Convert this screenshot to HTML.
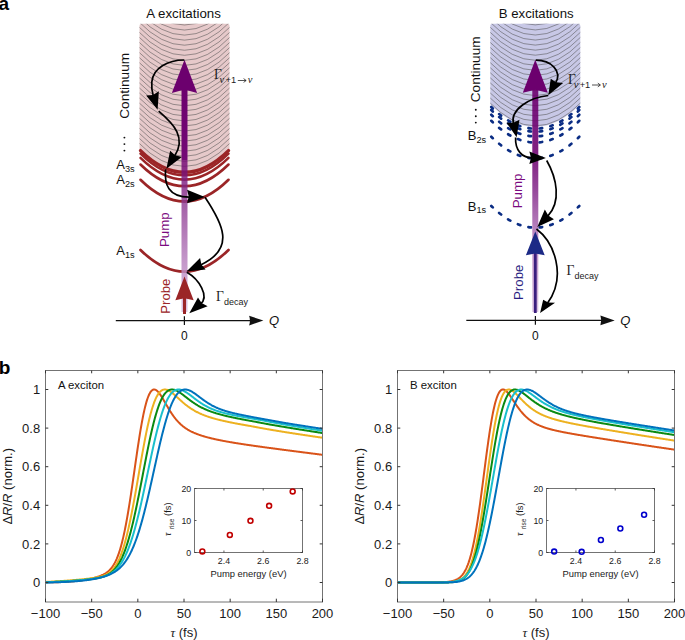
<!DOCTYPE html>
<html><head><meta charset="utf-8"><style>
html,body{margin:0;padding:0;background:#fff;width:685px;height:640px;overflow:hidden;}
svg{display:block;}
</style></head><body>
<svg width="685" height="640" viewBox="0 0 685 640">
<defs>
<linearGradient id="pumpA" x1="0" y1="89" x2="0" y2="313" gradientUnits="userSpaceOnUse"><stop offset="0" stop-color="#6C006E"/><stop offset="0.35" stop-color="#740A76"/><stop offset="0.5" stop-color="#8E3A92"/><stop offset="0.75" stop-color="#B47CBB"/><stop offset="1" stop-color="#D8BCDE"/></linearGradient>
<linearGradient id="pumpB" x1="0" y1="89" x2="0" y2="313" gradientUnits="userSpaceOnUse"><stop offset="0" stop-color="#6C006E"/><stop offset="0.3" stop-color="#720874"/><stop offset="0.45" stop-color="#8A3490"/><stop offset="0.65" stop-color="#B47CBB"/><stop offset="1" stop-color="#D8BCDE"/></linearGradient>
</defs>
<rect width="685" height="640" fill="#fff"/>
<text x="-1.4" y="9.9" font-family="'Liberation Sans', sans-serif" font-weight="bold" font-size="19">a</text>
<text x="-1.3" y="374.4" font-family="'Liberation Sans', sans-serif" font-weight="bold" font-size="19">b</text>
<text x="183.5" y="17.9" text-anchor="middle" font-family="'Liberation Sans', sans-serif" font-size="13.3" fill="#111">A excitations</text>
<path d="M141.50,23.8 L227.50,23.8 Q229.5,23.8 229.5,25.8 L229.5,149.82 Q184.5,195.18 139.5,149.82 L139.5,25.8 Q139.5,23.8 141.5,23.8 Z" fill="#E6C9CA"/>
<clipPath id="clipA"><path d="M139.5,23.8 L229.5,23.8 L229.5,149.82 Q184.5,195.18 139.5,149.82 Z"/></clipPath>
<g clip-path="url(#clipA)" fill="none" stroke="#505050" stroke-width="0.6" stroke-opacity="0.9">
<path d="M138.50,142.70 Q184.50,190.10 230.50,142.70"/>
<path d="M138.50,137.65 Q184.50,185.05 230.50,137.65"/>
<path d="M138.50,132.60 Q184.50,180.00 230.50,132.60"/>
<path d="M138.50,127.55 Q184.50,174.95 230.50,127.55"/>
<path d="M138.50,122.50 Q184.50,169.90 230.50,122.50"/>
<path d="M138.50,117.45 Q184.50,164.85 230.50,117.45"/>
<path d="M138.50,112.40 Q184.50,159.80 230.50,112.40"/>
<path d="M138.50,107.35 Q184.50,154.75 230.50,107.35"/>
<path d="M138.50,102.30 Q184.50,149.70 230.50,102.30"/>
<path d="M138.50,97.25 Q184.50,144.65 230.50,97.25"/>
<path d="M138.50,92.20 Q184.50,139.60 230.50,92.20"/>
<path d="M138.50,87.15 Q184.50,134.55 230.50,87.15"/>
<path d="M138.50,82.10 Q184.50,129.50 230.50,82.10"/>
<path d="M138.50,77.05 Q184.50,124.45 230.50,77.05"/>
<path d="M138.50,72.00 Q184.50,119.40 230.50,72.00"/>
<path d="M138.50,66.95 Q184.50,114.35 230.50,66.95"/>
<path d="M138.50,61.90 Q184.50,109.30 230.50,61.90"/>
<path d="M138.50,56.85 Q184.50,104.25 230.50,56.85"/>
<path d="M138.50,51.80 Q184.50,99.20 230.50,51.80"/>
<path d="M138.50,46.75 Q184.50,94.15 230.50,46.75"/>
<path d="M138.50,41.70 Q184.50,89.10 230.50,41.70"/>
<path d="M138.50,36.65 Q184.50,84.05 230.50,36.65"/>
<path d="M138.50,31.60 Q184.50,79.00 230.50,31.60"/>
<path d="M138.50,26.55 Q184.50,73.95 230.50,26.55"/>
<path d="M138.50,21.50 Q184.50,68.90 230.50,21.50"/>
<path d="M138.50,16.45 Q184.50,63.85 230.50,16.45"/>
<path d="M138.50,11.40 Q184.50,58.80 230.50,11.40"/>
<path d="M138.50,6.35 Q184.50,53.75 230.50,6.35"/>
<path d="M138.50,1.30 Q184.50,48.70 230.50,1.30"/>
<path d="M138.50,-3.75 Q184.50,43.65 230.50,-3.75"/>
<path d="M138.50,-8.80 Q184.50,38.60 230.50,-8.80"/>
<path d="M138.50,-13.85 Q184.50,33.55 230.50,-13.85"/>
<path d="M138.50,-18.90 Q184.50,28.50 230.50,-18.90"/>
<path d="M138.50,-23.95 Q184.50,23.45 230.50,-23.95"/>
<path d="M138.50,-29.00 Q184.50,18.40 230.50,-29.00"/>
<path d="M138.50,-34.05 Q184.50,13.35 230.50,-34.05"/>
<path d="M138.50,-39.10 Q184.50,8.30 230.50,-39.10"/>
<path d="M138.50,-44.15 Q184.50,3.25 230.50,-44.15"/>
<path d="M138.50,-49.20 Q184.50,-1.80 230.50,-49.20"/>
</g>
<path d="M140.50,150.62 Q184.50,193.98 228.50,150.62" fill="none" stroke="#9B2527" stroke-width="3.4" stroke-linecap="round"/>
<path d="M140.50,153.62 Q184.50,196.98 228.50,153.62" fill="none" stroke="#9B2527" stroke-width="2.5" stroke-linecap="round"/>
<path d="M140.50,157.92 Q184.50,201.28 228.50,157.92" fill="none" stroke="#9B2527" stroke-width="2.5" stroke-linecap="round"/>
<path d="M140.50,164.52 Q184.50,207.88 228.50,164.52" fill="none" stroke="#9B2527" stroke-width="2.6" stroke-linecap="round"/>
<path d="M140.50,179.82 Q184.50,223.18 228.50,179.82" fill="none" stroke="#9B2527" stroke-width="2.7" stroke-linecap="round"/>
<path d="M140.50,249.92 Q184.50,293.28 228.50,249.92" fill="none" stroke="#9B2527" stroke-width="2.7" stroke-linecap="round"/>
<rect x="181.5" y="89" width="6" height="71" fill="url(#pumpA)"/>
<rect x="181.5" y="160" width="6" height="152" fill="url(#pumpA)" opacity="0.82"/>
<path d="M184.50,59.80 L197.15,93.10 L184.50,89.40 L171.85,93.10 Z" fill="#6C006E"/>
<rect x="183.0" y="296" width="3" height="18" fill="#9B2527"/>
<path d="M184.50,276.60 L193.65,300.20 L184.50,298.20 L175.35,300.20 Z" fill="#9B2527"/>
<path d="M184.3,60 C168,60 153,68 151.8,82 C151.3,88 152.3,92.5 153.3,95.9" fill="none" stroke="#000" stroke-width="1.7"/>
<path d="M157.60,109.80 L146.15,95.60 L152.99,95.00 L158.87,91.36 Z" fill="#000"/>
<path d="M158.7,111.2 C173.9,124.2 186.5,137.5 174.6,156" fill="none" stroke="#000" stroke-width="1.7"/>
<path d="M166.40,168.70 L170.11,150.79 L175.12,155.20 L181.88,156.93 Z" fill="#000"/>
<path d="M165.6,169.4 C164.2,184 168,197.3 189.7,197.1" fill="none" stroke="#000" stroke-width="1.7"/>
<path d="M204.85,197.10 L187.09,189.68 L188.69,196.47 L187.09,203.14 Z" fill="#000"/>
<path d="M205,197.3 C222.6,223.6 236,248.5 200.6,264.9" fill="none" stroke="#000" stroke-width="1.7"/>
<path d="M186.50,271.60 L200.07,258.03 L201.38,264.45 L205.58,269.48 Z" fill="#000"/>
<path d="M186.8,272.2 C198.9,279 209.8,296.5 200.4,304.1" fill="none" stroke="#000" stroke-width="1.7"/>
<path d="M189.30,313.20 L197.99,297.51 L201.59,302.89 L207.64,306.20 Z" fill="#000"/>
<text transform="translate(129.2,118.7) rotate(-90)" font-family="'Liberation Sans', sans-serif" font-size="13.6" fill="#111">Continuum</text>
<circle cx="124.4" cy="137.6" r="0.95" fill="#111"/>
<circle cx="124.4" cy="144.1" r="0.95" fill="#111"/>
<circle cx="124.4" cy="150.6" r="0.95" fill="#111"/>
<text x="116.3" y="168.8" font-family="'Liberation Sans', sans-serif" font-size="13" fill="#111">A<tspan font-size="9.2" dy="2.8">3s</tspan></text>
<text x="116.3" y="184.1" font-family="'Liberation Sans', sans-serif" font-size="13" fill="#111">A<tspan font-size="9.2" dy="2.8">2s</tspan></text>
<text x="116.3" y="254.7" font-family="'Liberation Sans', sans-serif" font-size="13" fill="#111">A<tspan font-size="9.2" dy="2.8">1s</tspan></text>
<text transform="translate(169,247) rotate(-90)" font-family="'Liberation Sans', sans-serif" font-size="13.3" fill="#7B0A80">Pump</text>
<text transform="translate(169.6,313.8) rotate(-90)" font-family="'Liberation Sans', sans-serif" font-size="13.2" fill="#9B2527">Probe</text>
<text x="213.90" y="79.1" font-family="'Liberation Serif', serif" font-size="13.6" fill="#1a1a1a">Γ</text>
<text x="219.60" y="83.00" font-family="'Liberation Serif', serif" font-style="italic" font-size="10.5" fill="#1a1a1a">ν</text>
<text x="225.50" y="83.00" font-family="'Liberation Sans', sans-serif" font-size="9.3" fill="#1a1a1a" textLength="10.6" lengthAdjust="spacingAndGlyphs">+1</text>
<path d="M237.80,80.50 H246.00 M243.60,78.60 L246.20,80.50 L243.60,82.40" fill="none" stroke="#1a1a1a" stroke-width="0.75"/>
<text x="247.70" y="83.00" font-family="'Liberation Serif', serif" font-style="italic" font-size="10.5" fill="#1a1a1a">ν</text>
<text x="215.90" y="300.7" font-family="'Liberation Serif', serif" font-size="13.6" fill="#1a1a1a">Γ</text>
<text x="223.90" y="304.70" font-family="'Liberation Sans', sans-serif" font-size="9.3" fill="#1a1a1a" textLength="24" lengthAdjust="spacingAndGlyphs">decay</text>
<line x1="115.8" y1="320.6" x2="253.39999999999998" y2="320.6" stroke="#111" stroke-width="1.3"/>
<path d="M263.4,320.6 L249.09999999999997,315.8 Q250.79999999999998,320.6 249.09999999999997,325.40000000000003 Z" fill="#111"/>
<line x1="184.4" y1="316.3" x2="184.4" y2="324.90000000000003" stroke="#111" stroke-width="1.2"/>
<text x="268.9" y="325.1" font-family="'Liberation Sans', sans-serif" font-style="italic" font-size="13" fill="#111">Q</text>
<text x="184.4" y="340.40000000000003" text-anchor="middle" font-family="'Liberation Sans', sans-serif" font-size="12" fill="#111">0</text>
<text x="536.2" y="17.8" text-anchor="middle" font-family="'Liberation Sans', sans-serif" font-size="13.2" fill="#111">B excitations</text>
<path d="M492.30,23.8 L578.30,23.8 Q580.3,23.8 580.3,25.8 L580.3,104.32 Q535.3,149.68 490.29999999999995,104.32 L490.29999999999995,25.8 Q490.29999999999995,23.8 492.29999999999995,23.8 Z" fill="#C8C8E6"/>
<clipPath id="clipB"><path d="M490.29999999999995,23.8 L580.3,23.8 L580.3,104.32 Q535.3,149.68 490.29999999999995,104.32 Z"/></clipPath>
<g clip-path="url(#clipB)" fill="none" stroke="#505050" stroke-width="0.6" stroke-opacity="0.9">
<path d="M489.30,102.20 Q535.30,149.60 581.30,102.20"/>
<path d="M489.30,97.15 Q535.30,144.55 581.30,97.15"/>
<path d="M489.30,92.10 Q535.30,139.50 581.30,92.10"/>
<path d="M489.30,87.05 Q535.30,134.45 581.30,87.05"/>
<path d="M489.30,82.00 Q535.30,129.40 581.30,82.00"/>
<path d="M489.30,76.95 Q535.30,124.35 581.30,76.95"/>
<path d="M489.30,71.90 Q535.30,119.30 581.30,71.90"/>
<path d="M489.30,66.85 Q535.30,114.25 581.30,66.85"/>
<path d="M489.30,61.80 Q535.30,109.20 581.30,61.80"/>
<path d="M489.30,56.75 Q535.30,104.15 581.30,56.75"/>
<path d="M489.30,51.70 Q535.30,99.10 581.30,51.70"/>
<path d="M489.30,46.65 Q535.30,94.05 581.30,46.65"/>
<path d="M489.30,41.60 Q535.30,89.00 581.30,41.60"/>
<path d="M489.30,36.55 Q535.30,83.95 581.30,36.55"/>
<path d="M489.30,31.50 Q535.30,78.90 581.30,31.50"/>
<path d="M489.30,26.45 Q535.30,73.85 581.30,26.45"/>
<path d="M489.30,21.40 Q535.30,68.80 581.30,21.40"/>
<path d="M489.30,16.35 Q535.30,63.75 581.30,16.35"/>
<path d="M489.30,11.30 Q535.30,58.70 581.30,11.30"/>
<path d="M489.30,6.25 Q535.30,53.65 581.30,6.25"/>
<path d="M489.30,1.20 Q535.30,48.60 581.30,1.20"/>
<path d="M489.30,-3.85 Q535.30,43.55 581.30,-3.85"/>
<path d="M489.30,-8.90 Q535.30,38.50 581.30,-8.90"/>
<path d="M489.30,-13.95 Q535.30,33.45 581.30,-13.95"/>
<path d="M489.30,-19.00 Q535.30,28.40 581.30,-19.00"/>
<path d="M489.30,-24.05 Q535.30,23.35 581.30,-24.05"/>
<path d="M489.30,-29.10 Q535.30,18.30 581.30,-29.10"/>
<path d="M489.30,-34.15 Q535.30,13.25 581.30,-34.15"/>
<path d="M489.30,-39.20 Q535.30,8.20 581.30,-39.20"/>
<path d="M489.30,-44.25 Q535.30,3.15 581.30,-44.25"/>
<path d="M489.30,-49.30 Q535.30,-1.90 581.30,-49.30"/>
</g>
<path d="M535.30,128.70 Q513.30,128.70 491.30,107.02" fill="none" stroke="#0B2D84" stroke-width="2.7" stroke-linecap="round" stroke-dasharray="2.6 8.4" stroke-dashoffset="6.7"/>
<path d="M535.30,128.70 Q557.30,128.70 579.30,107.02" fill="none" stroke="#0B2D84" stroke-width="2.7" stroke-linecap="round" stroke-dasharray="2.6 8.4" stroke-dashoffset="6.7"/>
<path d="M535.30,131.70 Q513.30,131.70 491.30,110.02" fill="none" stroke="#0B2D84" stroke-width="2.7" stroke-linecap="round" stroke-dasharray="2.6 8.4" stroke-dashoffset="6.7"/>
<path d="M535.30,131.70 Q557.30,131.70 579.30,110.02" fill="none" stroke="#0B2D84" stroke-width="2.7" stroke-linecap="round" stroke-dasharray="2.6 8.4" stroke-dashoffset="6.7"/>
<path d="M535.30,136.40 Q513.30,136.40 491.30,114.72" fill="none" stroke="#0B2D84" stroke-width="2.7" stroke-linecap="round" stroke-dasharray="2.6 8.4" stroke-dashoffset="6.7"/>
<path d="M535.30,136.40 Q557.30,136.40 579.30,114.72" fill="none" stroke="#0B2D84" stroke-width="2.7" stroke-linecap="round" stroke-dasharray="2.6 8.4" stroke-dashoffset="6.7"/>
<path d="M535.30,142.50 Q513.30,142.50 491.30,120.82" fill="none" stroke="#0B2D84" stroke-width="2.7" stroke-linecap="round" stroke-dasharray="2.6 8.4" stroke-dashoffset="6.7"/>
<path d="M535.30,142.50 Q557.30,142.50 579.30,120.82" fill="none" stroke="#0B2D84" stroke-width="2.7" stroke-linecap="round" stroke-dasharray="2.6 8.4" stroke-dashoffset="6.7"/>
<path d="M535.30,158.40 Q513.30,158.40 491.30,136.72" fill="none" stroke="#0B2D84" stroke-width="2.7" stroke-linecap="round" stroke-dasharray="2.6 8.4" stroke-dashoffset="6.7"/>
<path d="M535.30,158.40 Q557.30,158.40 579.30,136.72" fill="none" stroke="#0B2D84" stroke-width="2.7" stroke-linecap="round" stroke-dasharray="2.6 8.4" stroke-dashoffset="6.7"/>
<path d="M535.30,227.60 Q513.30,227.60 491.30,205.92" fill="none" stroke="#0B2D84" stroke-width="2.7" stroke-linecap="round" stroke-dasharray="2.6 8.4" stroke-dashoffset="6.7"/>
<path d="M535.30,227.60 Q557.30,227.60 579.30,205.92" fill="none" stroke="#0B2D84" stroke-width="2.7" stroke-linecap="round" stroke-dasharray="2.6 8.4" stroke-dashoffset="6.7"/>
<rect x="532.3" y="89" width="6" height="223" fill="url(#pumpB)" opacity="0.9"/>
<path d="M535.30,59.70 L547.80,92.70 L535.30,89.70 L522.80,92.70 Z" fill="#6C006E"/>
<rect x="533.9" y="250" width="2.8" height="63" fill="#3A1E7E"/>
<path d="M535.30,231.60 L544.70,255.20 L535.30,253.40 L525.90,255.20 Z" fill="#1C2A86"/>
<path d="M535.8,60.2 C551,60.2 562.5,71 555.6,83" fill="none" stroke="#000" stroke-width="1.7"/>
<path d="M548.30,95.30 L550.74,78.76 L556.12,82.20 L563.14,82.90 Z" fill="#000"/>
<path d="M548.3,95.5 C530,97.3 509.4,109.5 513.6,124.5" fill="none" stroke="#000" stroke-width="1.7"/>
<path d="M516.60,137.20 L506.53,122.68 L513.35,122.75 L519.46,119.71 Z" fill="#000"/>
<path d="M515.6,137.5 C515,150 521.9,157.8 531.9,157.8" fill="none" stroke="#000" stroke-width="1.7"/>
<path d="M545.90,158.10 L529.36,151.53 L530.96,157.76 L529.36,163.93 Z" fill="#000"/>
<path d="M546.7,160.5 C556.7,177.9 561.6,201.9 547.6,216.3" fill="none" stroke="#000" stroke-width="1.7"/>
<path d="M537.30,226.90 L544.83,209.52 L548.27,215.59 L553.94,219.37 Z" fill="#000"/>
<path d="M536.5,229 C554.1,242.2 567,276 547.6,303.1" fill="none" stroke="#000" stroke-width="1.7"/>
<path d="M540.10,313.10 L543.17,299.64 L548.15,302.45 L555.05,302.71 Z" fill="#000"/>
<text transform="translate(480,102.2) rotate(-90)" font-family="'Liberation Sans', sans-serif" font-size="13.6" fill="#111">Continuum</text>
<circle cx="475.8" cy="109.7" r="0.95" fill="#111"/>
<circle cx="475.8" cy="116.2" r="0.95" fill="#111"/>
<circle cx="475.8" cy="122.6" r="0.95" fill="#111"/>
<text x="467.8" y="139.9" font-family="'Liberation Sans', sans-serif" font-size="13" fill="#111">B<tspan font-size="9.2" dy="2.8">2s</tspan></text>
<text x="467.8" y="210.5" font-family="'Liberation Sans', sans-serif" font-size="13" fill="#111">B<tspan font-size="9.2" dy="2.8">1s</tspan></text>
<text transform="translate(521.9,208.3) rotate(-90)" font-family="'Liberation Sans', sans-serif" font-size="13.3" fill="#7B0A80">Pump</text>
<text transform="translate(523,300) rotate(-90)" font-family="'Liberation Sans', sans-serif" font-size="13.3" fill="#2B1F82">Probe</text>
<text x="568.10" y="83.6" font-family="'Liberation Serif', serif" font-size="13.6" fill="#1a1a1a">Γ</text>
<text x="573.80" y="87.50" font-family="'Liberation Serif', serif" font-style="italic" font-size="10.5" fill="#1a1a1a">ν</text>
<text x="579.70" y="87.50" font-family="'Liberation Sans', sans-serif" font-size="9.3" fill="#1a1a1a" textLength="10.6" lengthAdjust="spacingAndGlyphs">+1</text>
<path d="M592.00,85.00 H600.20 M597.80,83.10 L600.40,85.00 L597.80,86.90" fill="none" stroke="#1a1a1a" stroke-width="0.75"/>
<text x="601.90" y="87.50" font-family="'Liberation Serif', serif" font-style="italic" font-size="10.5" fill="#1a1a1a">ν</text>
<text x="566.60" y="275.1" font-family="'Liberation Serif', serif" font-size="13.6" fill="#1a1a1a">Γ</text>
<text x="574.60" y="279.10" font-family="'Liberation Sans', sans-serif" font-size="9.3" fill="#1a1a1a" textLength="24" lengthAdjust="spacingAndGlyphs">decay</text>
<line x1="466.3" y1="320.4" x2="604.7" y2="320.4" stroke="#111" stroke-width="1.3"/>
<path d="M614.7,320.4 L600.4000000000001,315.59999999999997 Q602.1,320.4 600.4000000000001,325.2 Z" fill="#111"/>
<line x1="535.4" y1="316.09999999999997" x2="535.4" y2="324.7" stroke="#111" stroke-width="1.2"/>
<text x="620.2" y="324.9" font-family="'Liberation Sans', sans-serif" font-style="italic" font-size="13" fill="#111">Q</text>
<text x="535.4" y="340.2" text-anchor="middle" font-family="'Liberation Sans', sans-serif" font-size="12" fill="#111">0</text>
<clipPath id="pcA"><rect x="45.5" y="370.5" width="277" height="231"/></clipPath>
<g clip-path="url(#pcA)" fill="none" stroke-width="2">
<polyline points="45.50,582.40 45.96,582.39 46.42,582.39 46.88,582.38 47.35,582.37 47.81,582.37 48.27,582.36 48.73,582.36 49.19,582.35 49.65,582.34 50.12,582.33 50.58,582.33 51.04,582.32 51.50,582.31 51.96,582.30 52.42,582.29 52.89,582.28 53.35,582.27 53.81,582.26 54.27,582.25 54.73,582.24 55.19,582.23 55.66,582.22 56.12,582.20 56.58,582.19 57.04,582.18 57.50,582.16 57.96,582.15 58.43,582.14 58.89,582.12 59.35,582.11 59.81,582.09 60.27,582.07 60.73,582.05 61.20,582.04 61.66,582.02 62.12,582.00 62.58,581.98 63.04,581.96 63.50,581.94 63.97,581.92 64.43,581.89 64.89,581.87 65.35,581.84 65.81,581.82 66.27,581.79 66.74,581.77 67.20,581.74 67.66,581.71 68.12,581.68 68.58,581.65 69.04,581.62 69.51,581.59 69.97,581.56 70.43,581.52 70.89,581.49 71.35,581.45 71.81,581.41 72.28,581.38 72.74,581.34 73.20,581.30 73.66,581.25 74.12,581.21 74.58,581.17 75.05,581.12 75.51,581.08 75.97,581.03 76.43,580.98 76.89,580.93 77.35,580.88 77.82,580.83 78.28,580.77 78.74,580.72 79.20,580.66 79.66,580.60 80.12,580.54 80.59,580.48 81.05,580.42 81.51,580.35 81.97,580.28 82.43,580.22 82.89,580.15 83.36,580.08 83.82,580.00 84.28,579.93 84.74,579.85 85.20,579.77 85.66,579.69 86.13,579.61 86.59,579.53 87.05,579.44 87.51,579.35 87.97,579.26 88.43,579.17 88.90,579.08 89.36,578.98 89.82,578.89 90.28,578.78 90.74,578.68 91.20,578.58 91.67,578.47 92.13,578.36 92.59,578.25 93.05,578.13 93.51,578.02 93.97,577.89 94.44,577.77 94.90,577.64 95.36,577.51 95.82,577.38 96.28,577.24 96.74,577.10 97.21,576.96 97.67,576.81 98.13,576.66 98.59,576.50 99.05,576.33 99.51,576.17 99.98,575.99 100.44,575.81 100.90,575.62 101.36,575.43 101.82,575.23 102.28,575.02 102.75,574.80 103.21,574.58 103.67,574.34 104.13,574.09 104.59,573.83 105.05,573.56 105.52,573.28 105.98,572.98 106.44,572.66 106.90,572.33 107.36,571.98 107.82,571.62 108.29,571.23 108.75,570.83 109.21,570.40 109.67,569.94 110.13,569.46 110.59,568.96 111.06,568.42 111.52,567.85 111.98,567.26 112.44,566.62 112.90,565.95 113.36,565.25 113.83,564.50 114.29,563.71 114.75,562.88 115.21,562.00 115.67,561.07 116.13,560.09 116.60,559.06 117.06,557.98 117.52,556.84 117.98,555.64 118.44,554.38 118.90,553.06 119.37,551.67 119.83,550.22 120.29,548.71 120.75,547.12 121.21,545.47 121.67,543.74 122.14,541.94 122.60,540.07 123.06,538.13 123.52,536.12 123.98,534.03 124.44,531.87 124.91,529.63 125.37,527.32 125.83,524.95 126.29,522.50 126.75,519.98 127.21,517.39 127.68,514.75 128.14,512.03 128.60,509.26 129.06,506.42 129.52,503.54 129.98,500.60 130.45,497.62 130.91,494.59 131.37,491.52 131.83,488.41 132.29,485.28 132.75,482.12 133.22,478.94 133.68,475.74 134.14,472.53 134.60,469.32 135.06,466.11 135.52,462.90 135.99,459.71 136.45,456.53 136.91,453.38 137.37,450.25 137.83,447.16 138.29,444.12 138.76,441.11 139.22,438.16 139.68,435.26 140.14,432.43 140.60,429.66 141.06,426.96 141.53,424.34 141.99,421.79 142.45,419.33 142.91,416.96 143.37,414.67 143.83,412.48 144.30,410.38 144.76,408.38 145.22,406.48 145.68,404.69 146.14,402.99 146.60,401.40 147.07,399.91 147.53,398.52 147.99,397.24 148.45,396.07 148.91,394.99 149.37,394.02 149.84,393.15 150.30,392.38 150.76,391.70 151.22,391.13 151.68,390.64 152.14,390.24 152.61,389.93 153.07,389.71 153.53,389.57 153.99,389.51 154.45,389.51 154.91,389.60 155.38,389.75 155.84,389.97 156.30,390.24 156.76,390.58 157.22,390.96 157.68,391.40 158.15,391.89 158.61,392.42 159.07,392.98 159.53,393.59 159.99,394.23 160.45,394.89 160.92,395.59 161.38,396.30 161.84,397.04 162.30,397.79 162.76,398.56 163.22,399.35 163.69,400.14 164.15,400.94 164.61,401.74 165.07,402.55 165.53,403.36 165.99,404.16 166.46,404.97 166.92,405.77 167.38,406.57 167.84,407.36 168.30,408.14 168.76,408.91 169.23,409.67 169.69,410.43 170.15,411.17 170.61,411.90 171.07,412.61 171.53,413.31 172.00,414.00 172.46,414.68 172.92,415.34 173.38,415.99 173.84,416.62 174.30,417.23 174.77,417.84 175.23,418.42 175.69,419.00 176.15,419.56 176.61,420.10 177.07,420.63 177.54,421.15 178.00,421.65 178.46,422.14 178.92,422.62 179.38,423.08 179.84,423.53 180.31,423.97 180.77,424.39 181.23,424.81 181.69,425.21 182.15,425.60 182.61,425.98 183.08,426.35 183.54,426.71 184.00,427.06 184.46,427.40 184.92,427.73 185.38,428.06 185.85,428.37 186.31,428.68 186.77,428.97 187.23,429.26 187.69,429.55 188.15,429.82 188.62,430.09 189.08,430.35 189.54,430.61 190.00,430.85 190.46,431.10 190.92,431.33 191.39,431.57 191.85,431.79 192.31,432.01 192.77,432.23 193.23,432.44 193.69,432.65 194.16,432.85 194.62,433.05 195.08,433.24 195.54,433.43 196.00,433.62 196.46,433.80 196.93,433.98 197.39,434.16 197.85,434.33 198.31,434.50 198.77,434.66 199.23,434.83 199.70,434.99 200.16,435.14 200.62,435.30 201.08,435.45 201.54,435.60 202.00,435.75 202.47,435.89 202.93,436.04 203.39,436.18 203.85,436.32 204.31,436.45 204.77,436.59 205.24,436.72 205.70,436.85 206.16,436.98 206.62,437.11 207.08,437.23 207.54,437.36 208.01,437.48 208.47,437.60 208.93,437.72 209.39,437.84 209.85,437.96 210.31,438.07 210.78,438.18 211.24,438.30 211.70,438.41 212.16,438.52 212.62,438.63 213.08,438.74 213.55,438.84 214.01,438.95 214.47,439.05 214.93,439.16 215.39,439.26 215.85,439.36 216.32,439.46 216.78,439.56 217.24,439.66 217.70,439.76 218.16,439.85 218.62,439.95 219.09,440.04 219.55,440.14 220.01,440.23 220.47,440.32 220.93,440.42 221.39,440.51 221.86,440.60 222.32,440.69 222.78,440.78 223.24,440.87 223.70,440.95 224.16,441.04 224.63,441.13 225.09,441.21 225.55,441.30 226.01,441.38 226.47,441.47 226.93,441.55 227.40,441.63 227.86,441.72 228.32,441.80 228.78,441.88 229.24,441.96 229.70,442.04 230.17,442.12 230.63,442.20 231.09,442.28 231.55,442.36 232.01,442.44 232.47,442.51 232.94,442.59 233.40,442.67 233.86,442.75 234.32,442.82 234.78,442.90 235.24,442.97 235.71,443.05 236.17,443.12 236.63,443.20 237.09,443.27 237.55,443.34 238.01,443.42 238.48,443.49 238.94,443.56 239.40,443.63 239.86,443.71 240.32,443.78 240.78,443.85 241.25,443.92 241.71,443.99 242.17,444.06 242.63,444.13 243.09,444.20 243.55,444.27 244.02,444.34 244.48,444.41 244.94,444.48 245.40,444.55 245.86,444.62 246.32,444.69 246.79,444.75 247.25,444.82 247.71,444.89 248.17,444.96 248.63,445.03 249.09,445.09 249.56,445.16 250.02,445.23 250.48,445.30 250.94,445.36 251.40,445.43 251.86,445.50 252.33,445.56 252.79,445.63 253.25,445.70 253.71,445.76 254.17,445.83 254.63,445.89 255.10,445.96 255.56,446.03 256.02,446.09 256.48,446.16 256.94,446.22 257.40,446.29 257.87,446.35 258.33,446.41 258.79,446.48 259.25,446.54 259.71,446.61 260.17,446.67 260.64,446.73 261.10,446.80 261.56,446.86 262.02,446.93 262.48,446.99 262.94,447.05 263.41,447.12 263.87,447.18 264.33,447.24 264.79,447.30 265.25,447.37 265.71,447.43 266.18,447.49 266.64,447.55 267.10,447.62 267.56,447.68 268.02,447.74 268.48,447.80 268.95,447.87 269.41,447.93 269.87,447.99 270.33,448.05 270.79,448.11 271.25,448.18 271.72,448.24 272.18,448.30 272.64,448.36 273.10,448.42 273.56,448.48 274.02,448.55 274.49,448.61 274.95,448.67 275.41,448.73 275.87,448.79 276.33,448.85 276.79,448.91 277.26,448.97 277.72,449.04 278.18,449.10 278.64,449.16 279.10,449.22 279.56,449.28 280.03,449.34 280.49,449.40 280.95,449.46 281.41,449.52 281.87,449.58 282.33,449.64 282.80,449.70 283.26,449.76 283.72,449.82 284.18,449.89 284.64,449.95 285.10,450.01 285.57,450.07 286.03,450.13 286.49,450.19 286.95,450.25 287.41,450.31 287.87,450.37 288.34,450.43 288.80,450.49 289.26,450.55 289.72,450.61 290.18,450.67 290.64,450.73 291.11,450.79 291.57,450.85 292.03,450.91 292.49,450.97 292.95,451.03 293.41,451.09 293.88,451.15 294.34,451.21 294.80,451.27 295.26,451.33 295.72,451.38 296.18,451.44 296.65,451.50 297.11,451.56 297.57,451.62 298.03,451.68 298.49,451.74 298.95,451.80 299.42,451.86 299.88,451.92 300.34,451.98 300.80,452.04 301.26,452.10 301.72,452.16 302.19,452.22 302.65,452.27 303.11,452.33 303.57,452.39 304.03,452.45 304.49,452.51 304.96,452.57 305.42,452.63 305.88,452.69 306.34,452.75 306.80,452.81 307.26,452.86 307.73,452.92 308.19,452.98 308.65,453.04 309.11,453.10 309.57,453.16 310.03,453.22 310.50,453.28 310.96,453.33 311.42,453.39 311.88,453.45 312.34,453.51 312.80,453.57 313.27,453.63 313.73,453.69 314.19,453.74 314.65,453.80 315.11,453.86 315.57,453.92 316.04,453.98 316.50,454.04 316.96,454.09 317.42,454.15 317.88,454.21 318.34,454.27 318.81,454.33 319.27,454.39 319.73,454.44 320.19,454.50 320.65,454.56 321.11,454.62 321.58,454.68 322.04,454.73 322.50,454.79" stroke="#D95319"/>
<polyline points="45.50,581.90 45.96,581.88 46.42,581.86 46.88,581.84 47.35,581.82 47.81,581.80 48.27,581.77 48.73,581.75 49.19,581.73 49.65,581.71 50.12,581.68 50.58,581.66 51.04,581.64 51.50,581.61 51.96,581.59 52.42,581.56 52.89,581.54 53.35,581.51 53.81,581.49 54.27,581.46 54.73,581.43 55.19,581.41 55.66,581.38 56.12,581.36 56.58,581.33 57.04,581.30 57.50,581.27 57.96,581.25 58.43,581.22 58.89,581.19 59.35,581.16 59.81,581.13 60.27,581.10 60.73,581.07 61.20,581.04 61.66,581.01 62.12,580.98 62.58,580.95 63.04,580.92 63.50,580.89 63.97,580.85 64.43,580.82 64.89,580.79 65.35,580.76 65.81,580.72 66.27,580.69 66.74,580.65 67.20,580.62 67.66,580.59 68.12,580.55 68.58,580.52 69.04,580.48 69.51,580.44 69.97,580.41 70.43,580.37 70.89,580.33 71.35,580.30 71.81,580.26 72.28,580.22 72.74,580.18 73.20,580.14 73.66,580.10 74.12,580.06 74.58,580.02 75.05,579.98 75.51,579.94 75.97,579.90 76.43,579.86 76.89,579.82 77.35,579.78 77.82,579.73 78.28,579.69 78.74,579.65 79.20,579.60 79.66,579.56 80.12,579.51 80.59,579.47 81.05,579.42 81.51,579.38 81.97,579.33 82.43,579.28 82.89,579.24 83.36,579.19 83.82,579.14 84.28,579.09 84.74,579.04 85.20,578.99 85.66,578.94 86.13,578.89 86.59,578.84 87.05,578.79 87.51,578.73 87.97,578.68 88.43,578.62 88.90,578.57 89.36,578.51 89.82,578.46 90.28,578.40 90.74,578.34 91.20,578.28 91.67,578.21 92.13,578.15 92.59,578.09 93.05,578.02 93.51,577.95 93.97,577.88 94.44,577.81 94.90,577.74 95.36,577.66 95.82,577.58 96.28,577.50 96.74,577.41 97.21,577.33 97.67,577.24 98.13,577.14 98.59,577.04 99.05,576.94 99.51,576.83 99.98,576.72 100.44,576.60 100.90,576.48 101.36,576.35 101.82,576.21 102.28,576.07 102.75,575.92 103.21,575.76 103.67,575.59 104.13,575.41 104.59,575.23 105.05,575.03 105.52,574.82 105.98,574.60 106.44,574.37 106.90,574.12 107.36,573.86 107.82,573.58 108.29,573.28 108.75,572.97 109.21,572.65 109.67,572.30 110.13,571.93 110.59,571.54 111.06,571.13 111.52,570.69 111.98,570.23 112.44,569.75 112.90,569.23 113.36,568.69 113.83,568.12 114.29,567.52 114.75,566.89 115.21,566.23 115.67,565.53 116.13,564.79 116.60,564.02 117.06,563.21 117.52,562.36 117.98,561.47 118.44,560.54 118.90,559.56 119.37,558.55 119.83,557.48 120.29,556.38 120.75,555.22 121.21,554.02 121.67,552.76 122.14,551.46 122.60,550.11 123.06,548.71 123.52,547.26 123.98,545.75 124.44,544.19 124.91,542.59 125.37,540.92 125.83,539.21 126.29,537.45 126.75,535.63 127.21,533.76 127.68,531.84 128.14,529.87 128.60,527.85 129.06,525.78 129.52,523.66 129.98,521.50 130.45,519.29 130.91,517.03 131.37,514.74 131.83,512.40 132.29,510.03 132.75,507.61 133.22,505.17 133.68,502.69 134.14,500.17 134.60,497.63 135.06,495.07 135.52,492.48 135.99,489.87 136.45,487.25 136.91,484.61 137.37,481.96 137.83,479.30 138.29,476.63 138.76,473.96 139.22,471.29 139.68,468.63 140.14,465.97 140.60,463.32 141.06,460.68 141.53,458.06 141.99,455.46 142.45,452.89 142.91,450.33 143.37,447.81 143.83,445.32 144.30,442.86 144.76,440.44 145.22,438.05 145.68,435.71 146.14,433.42 146.60,431.17 147.07,428.97 147.53,426.82 147.99,424.72 148.45,422.68 148.91,420.70 149.37,418.77 149.84,416.90 150.30,415.10 150.76,413.35 151.22,411.67 151.68,410.05 152.14,408.49 152.61,407.00 153.07,405.58 153.53,404.22 153.99,402.92 154.45,401.69 154.91,400.53 155.38,399.43 155.84,398.39 156.30,397.42 156.76,396.51 157.22,395.66 157.68,394.88 158.15,394.15 158.61,393.48 159.07,392.87 159.53,392.32 159.99,391.82 160.45,391.37 160.92,390.98 161.38,390.64 161.84,390.34 162.30,390.10 162.76,389.89 163.22,389.73 163.69,389.62 164.15,389.54 164.61,389.50 165.07,389.50 165.53,389.54 165.99,389.61 166.46,389.71 166.92,389.83 167.38,389.99 167.84,390.18 168.30,390.38 168.76,390.62 169.23,390.87 169.69,391.14 170.15,391.43 170.61,391.74 171.07,392.07 171.53,392.41 172.00,392.76 172.46,393.12 172.92,393.50 173.38,393.88 173.84,394.27 174.30,394.67 174.77,395.08 175.23,395.49 175.69,395.90 176.15,396.32 176.61,396.74 177.07,397.17 177.54,397.59 178.00,398.01 178.46,398.44 178.92,398.86 179.38,399.28 179.84,399.71 180.31,400.12 180.77,400.54 181.23,400.95 181.69,401.36 182.15,401.77 182.61,402.17 183.08,402.56 183.54,402.96 184.00,403.34 184.46,403.73 184.92,404.10 185.38,404.48 185.85,404.84 186.31,405.20 186.77,405.56 187.23,405.91 187.69,406.26 188.15,406.59 188.62,406.93 189.08,407.26 189.54,407.58 190.00,407.90 190.46,408.21 190.92,408.51 191.39,408.81 191.85,409.11 192.31,409.40 192.77,409.68 193.23,409.96 193.69,410.23 194.16,410.50 194.62,410.76 195.08,411.02 195.54,411.28 196.00,411.53 196.46,411.77 196.93,412.01 197.39,412.25 197.85,412.48 198.31,412.70 198.77,412.93 199.23,413.15 199.70,413.36 200.16,413.57 200.62,413.78 201.08,413.98 201.54,414.18 202.00,414.38 202.47,414.57 202.93,414.76 203.39,414.94 203.85,415.13 204.31,415.31 204.77,415.48 205.24,415.66 205.70,415.83 206.16,416.00 206.62,416.16 207.08,416.33 207.54,416.49 208.01,416.64 208.47,416.80 208.93,416.95 209.39,417.10 209.85,417.25 210.31,417.40 210.78,417.54 211.24,417.68 211.70,417.82 212.16,417.96 212.62,418.10 213.08,418.23 213.55,418.37 214.01,418.50 214.47,418.63 214.93,418.75 215.39,418.88 215.85,419.01 216.32,419.13 216.78,419.25 217.24,419.37 217.70,419.49 218.16,419.61 218.62,419.72 219.09,419.84 219.55,419.95 220.01,420.07 220.47,420.18 220.93,420.29 221.39,420.40 221.86,420.51 222.32,420.61 222.78,420.72 223.24,420.82 223.70,420.93 224.16,421.03 224.63,421.14 225.09,421.24 225.55,421.34 226.01,421.44 226.47,421.54 226.93,421.64 227.40,421.73 227.86,421.83 228.32,421.93 228.78,422.02 229.24,422.12 229.70,422.21 230.17,422.31 230.63,422.40 231.09,422.49 231.55,422.59 232.01,422.68 232.47,422.77 232.94,422.86 233.40,422.95 233.86,423.04 234.32,423.13 234.78,423.22 235.24,423.31 235.71,423.39 236.17,423.48 236.63,423.57 237.09,423.66 237.55,423.74 238.01,423.83 238.48,423.91 238.94,424.00 239.40,424.08 239.86,424.17 240.32,424.25 240.78,424.34 241.25,424.42 241.71,424.50 242.17,424.59 242.63,424.67 243.09,424.75 243.55,424.83 244.02,424.91 244.48,425.00 244.94,425.08 245.40,425.16 245.86,425.24 246.32,425.32 246.79,425.40 247.25,425.48 247.71,425.56 248.17,425.64 248.63,425.72 249.09,425.80 249.56,425.88 250.02,425.96 250.48,426.04 250.94,426.13 251.40,426.21 251.86,426.30 252.33,426.38 252.79,426.47 253.25,426.56 253.71,426.65 254.17,426.74 254.63,426.83 255.10,426.92 255.56,427.00 256.02,427.09 256.48,427.18 256.94,427.27 257.40,427.36 257.87,427.44 258.33,427.53 258.79,427.62 259.25,427.70 259.71,427.79 260.17,427.88 260.64,427.96 261.10,428.05 261.56,428.13 262.02,428.21 262.48,428.30 262.94,428.38 263.41,428.47 263.87,428.55 264.33,428.63 264.79,428.71 265.25,428.79 265.71,428.88 266.18,428.96 266.64,429.04 267.10,429.12 267.56,429.20 268.02,429.28 268.48,429.36 268.95,429.44 269.41,429.52 269.87,429.60 270.33,429.68 270.79,429.76 271.25,429.83 271.72,429.91 272.18,429.99 272.64,430.07 273.10,430.15 273.56,430.22 274.02,430.30 274.49,430.38 274.95,430.45 275.41,430.53 275.87,430.61 276.33,430.68 276.79,430.76 277.26,430.83 277.72,430.91 278.18,430.98 278.64,431.06 279.10,431.13 279.56,431.21 280.03,431.28 280.49,431.36 280.95,431.43 281.41,431.51 281.87,431.58 282.33,431.66 282.80,431.73 283.26,431.80 283.72,431.88 284.18,431.95 284.64,432.02 285.10,432.10 285.57,432.17 286.03,432.24 286.49,432.31 286.95,432.39 287.41,432.46 287.87,432.53 288.34,432.60 288.80,432.68 289.26,432.75 289.72,432.82 290.18,432.89 290.64,432.97 291.11,433.04 291.57,433.11 292.03,433.18 292.49,433.25 292.95,433.32 293.41,433.39 293.88,433.47 294.34,433.54 294.80,433.61 295.26,433.68 295.72,433.75 296.18,433.82 296.65,433.89 297.11,433.96 297.57,434.03 298.03,434.10 298.49,434.17 298.95,434.24 299.42,434.31 299.88,434.38 300.34,434.45 300.80,434.52 301.26,434.59 301.72,434.66 302.19,434.73 302.65,434.80 303.11,434.87 303.57,434.94 304.03,435.01 304.49,435.08 304.96,435.15 305.42,435.22 305.88,435.29 306.34,435.36 306.80,435.43 307.26,435.50 307.73,435.56 308.19,435.63 308.65,435.70 309.11,435.77 309.57,435.84 310.03,435.91 310.50,435.98 310.96,436.05 311.42,436.12 311.88,436.18 312.34,436.25 312.80,436.32 313.27,436.39 313.73,436.46 314.19,436.53 314.65,436.59 315.11,436.66 315.57,436.73 316.04,436.80 316.50,436.87 316.96,436.93 317.42,437.00 317.88,437.07 318.34,437.14 318.81,437.21 319.27,437.27 319.73,437.34 320.19,437.41 320.65,437.48 321.11,437.54 321.58,437.61 322.04,437.68 322.50,437.75" stroke="#EDB120"/>
<polyline points="45.50,582.20 45.96,582.19 46.42,582.17 46.88,582.16 47.35,582.14 47.81,582.13 48.27,582.11 48.73,582.09 49.19,582.08 49.65,582.06 50.12,582.04 50.58,582.03 51.04,582.01 51.50,581.99 51.96,581.97 52.42,581.96 52.89,581.94 53.35,581.92 53.81,581.90 54.27,581.88 54.73,581.86 55.19,581.84 55.66,581.82 56.12,581.80 56.58,581.78 57.04,581.76 57.50,581.74 57.96,581.72 58.43,581.70 58.89,581.67 59.35,581.65 59.81,581.63 60.27,581.61 60.73,581.58 61.20,581.56 61.66,581.54 62.12,581.51 62.58,581.49 63.04,581.46 63.50,581.44 63.97,581.41 64.43,581.39 64.89,581.36 65.35,581.33 65.81,581.31 66.27,581.28 66.74,581.25 67.20,581.22 67.66,581.19 68.12,581.16 68.58,581.14 69.04,581.11 69.51,581.08 69.97,581.05 70.43,581.01 70.89,580.98 71.35,580.95 71.81,580.92 72.28,580.89 72.74,580.85 73.20,580.82 73.66,580.79 74.12,580.75 74.58,580.72 75.05,580.68 75.51,580.65 75.97,580.61 76.43,580.58 76.89,580.54 77.35,580.50 77.82,580.46 78.28,580.43 78.74,580.39 79.20,580.35 79.66,580.31 80.12,580.27 80.59,580.23 81.05,580.19 81.51,580.14 81.97,580.10 82.43,580.06 82.89,580.02 83.36,579.97 83.82,579.93 84.28,579.88 84.74,579.84 85.20,579.79 85.66,579.74 86.13,579.69 86.59,579.64 87.05,579.59 87.51,579.54 87.97,579.49 88.43,579.44 88.90,579.38 89.36,579.33 89.82,579.27 90.28,579.22 90.74,579.16 91.20,579.10 91.67,579.04 92.13,578.98 92.59,578.91 93.05,578.85 93.51,578.78 93.97,578.71 94.44,578.64 94.90,578.56 95.36,578.49 95.82,578.41 96.28,578.33 96.74,578.25 97.21,578.16 97.67,578.07 98.13,577.98 98.59,577.88 99.05,577.78 99.51,577.67 99.98,577.57 100.44,577.45 100.90,577.33 101.36,577.21 101.82,577.08 102.28,576.95 102.75,576.80 103.21,576.66 103.67,576.50 104.13,576.34 104.59,576.17 105.05,575.99 105.52,575.80 105.98,575.61 106.44,575.40 106.90,575.18 107.36,574.95 107.82,574.71 108.29,574.46 108.75,574.19 109.21,573.92 109.67,573.62 110.13,573.31 110.59,572.99 111.06,572.65 111.52,572.29 111.98,571.92 112.44,571.52 112.90,571.11 113.36,570.67 113.83,570.22 114.29,569.74 114.75,569.24 115.21,568.71 115.67,568.16 116.13,567.59 116.60,566.99 117.06,566.36 117.52,565.70 117.98,565.01 118.44,564.29 118.90,563.54 119.37,562.76 119.83,561.95 120.29,561.10 120.75,560.22 121.21,559.31 121.67,558.35 122.14,557.36 122.60,556.33 123.06,555.27 123.52,554.17 123.98,553.02 124.44,551.84 124.91,550.62 125.37,549.35 125.83,548.04 126.29,546.70 126.75,545.31 127.21,543.88 127.68,542.40 128.14,540.89 128.60,539.33 129.06,537.73 129.52,536.09 129.98,534.40 130.45,532.68 130.91,530.91 131.37,529.11 131.83,527.26 132.29,525.38 132.75,523.45 133.22,521.49 133.68,519.49 134.14,517.46 134.60,515.39 135.06,513.29 135.52,511.16 135.99,509.00 136.45,506.80 136.91,504.58 137.37,502.34 137.83,500.07 138.29,497.78 138.76,495.46 139.22,493.13 139.68,490.78 140.14,488.42 140.60,486.05 141.06,483.66 141.53,481.26 141.99,478.86 142.45,476.46 142.91,474.05 143.37,471.64 143.83,469.24 144.30,466.84 144.76,464.45 145.22,462.07 145.68,459.70 146.14,457.34 146.60,455.01 147.07,452.69 147.53,450.39 147.99,448.11 148.45,445.86 148.91,443.64 149.37,441.44 149.84,439.28 150.30,437.15 150.76,435.05 151.22,433.00 151.68,430.98 152.14,429.00 152.61,427.06 153.07,425.16 153.53,423.31 153.99,421.51 154.45,419.75 154.91,418.04 155.38,416.37 155.84,414.76 156.30,413.20 156.76,411.69 157.22,410.23 157.68,408.82 158.15,407.46 158.61,406.16 159.07,404.91 159.53,403.71 159.99,402.57 160.45,401.48 160.92,400.44 161.38,399.45 161.84,398.52 162.30,397.63 162.76,396.80 163.22,396.02 163.69,395.29 164.15,394.61 164.61,393.97 165.07,393.38 165.53,392.84 165.99,392.34 166.46,391.89 166.92,391.48 167.38,391.12 167.84,390.79 168.30,390.50 168.76,390.26 169.23,390.05 169.69,389.87 170.15,389.73 170.61,389.63 171.07,389.56 171.53,389.51 172.00,389.50 172.46,389.52 172.92,389.56 173.38,389.63 173.84,389.72 174.30,389.83 174.77,389.97 175.23,390.13 175.69,390.31 176.15,390.50 176.61,390.72 177.07,390.95 177.54,391.19 178.00,391.45 178.46,391.72 178.92,392.00 179.38,392.30 179.84,392.60 180.31,392.91 180.77,393.23 181.23,393.56 181.69,393.89 182.15,394.23 182.61,394.57 183.08,394.92 183.54,395.27 184.00,395.63 184.46,395.98 184.92,396.34 185.38,396.70 185.85,397.06 186.31,397.41 186.77,397.77 187.23,398.13 187.69,398.49 188.15,398.84 188.62,399.19 189.08,399.54 189.54,399.89 190.00,400.23 190.46,400.58 190.92,400.91 191.39,401.25 191.85,401.58 192.31,401.91 192.77,402.23 193.23,402.55 193.69,402.86 194.16,403.17 194.62,403.48 195.08,403.78 195.54,404.08 196.00,404.37 196.46,404.66 196.93,404.94 197.39,405.22 197.85,405.50 198.31,405.76 198.77,406.03 199.23,406.29 199.70,406.55 200.16,406.80 200.62,407.05 201.08,407.29 201.54,407.53 202.00,407.76 202.47,407.99 202.93,408.22 203.39,408.44 203.85,408.66 204.31,408.87 204.77,409.09 205.24,409.29 205.70,409.50 206.16,409.70 206.62,409.89 207.08,410.09 207.54,410.27 208.01,410.46 208.47,410.64 208.93,410.82 209.39,411.00 209.85,411.18 210.31,411.35 210.78,411.52 211.24,411.68 211.70,411.84 212.16,412.01 212.62,412.16 213.08,412.32 213.55,412.47 214.01,412.62 214.47,412.77 214.93,412.92 215.39,413.06 215.85,413.21 216.32,413.35 216.78,413.48 217.24,413.62 217.70,413.76 218.16,413.89 218.62,414.02 219.09,414.15 219.55,414.28 220.01,414.41 220.47,414.53 220.93,414.65 221.39,414.78 221.86,414.90 222.32,415.02 222.78,415.13 223.24,415.25 223.70,415.37 224.16,415.48 224.63,415.60 225.09,415.71 225.55,415.82 226.01,415.93 226.47,416.04 226.93,416.15 227.40,416.25 227.86,416.36 228.32,416.47 228.78,416.57 229.24,416.67 229.70,416.78 230.17,416.88 230.63,416.98 231.09,417.08 231.55,417.18 232.01,417.28 232.47,417.38 232.94,417.48 233.40,417.58 233.86,417.67 234.32,417.77 234.78,417.87 235.24,417.96 235.71,418.06 236.17,418.15 236.63,418.24 237.09,418.34 237.55,418.43 238.01,418.52 238.48,418.61 238.94,418.71 239.40,418.80 239.86,418.89 240.32,418.98 240.78,419.07 241.25,419.16 241.71,419.25 242.17,419.33 242.63,419.42 243.09,419.51 243.55,419.60 244.02,419.69 244.48,419.77 244.94,419.86 245.40,419.95 245.86,420.03 246.32,420.12 246.79,420.21 247.25,420.29 247.71,420.38 248.17,420.46 248.63,420.55 249.09,420.63 249.56,420.72 250.02,420.80 250.48,420.88 250.94,420.97 251.40,421.05 251.86,421.13 252.33,421.22 252.79,421.30 253.25,421.38 253.71,421.47 254.17,421.55 254.63,421.63 255.10,421.72 255.56,421.80 256.02,421.89 256.48,421.98 256.94,422.06 257.40,422.15 257.87,422.24 258.33,422.33 258.79,422.42 259.25,422.51 259.71,422.59 260.17,422.68 260.64,422.77 261.10,422.86 261.56,422.95 262.02,423.04 262.48,423.12 262.94,423.21 263.41,423.30 263.87,423.38 264.33,423.47 264.79,423.55 265.25,423.64 265.71,423.73 266.18,423.81 266.64,423.90 267.10,423.98 267.56,424.06 268.02,424.15 268.48,424.23 268.95,424.31 269.41,424.40 269.87,424.48 270.33,424.56 270.79,424.64 271.25,424.73 271.72,424.81 272.18,424.89 272.64,424.97 273.10,425.05 273.56,425.13 274.02,425.21 274.49,425.29 274.95,425.37 275.41,425.45 275.87,425.53 276.33,425.61 276.79,425.69 277.26,425.77 277.72,425.85 278.18,425.93 278.64,426.01 279.10,426.09 279.56,426.17 280.03,426.24 280.49,426.32 280.95,426.40 281.41,426.48 281.87,426.55 282.33,426.63 282.80,426.71 283.26,426.79 283.72,426.86 284.18,426.94 284.64,427.02 285.10,427.09 285.57,427.17 286.03,427.25 286.49,427.32 286.95,427.40 287.41,427.48 287.87,427.55 288.34,427.63 288.80,427.70 289.26,427.78 289.72,427.85 290.18,427.93 290.64,428.01 291.11,428.08 291.57,428.16 292.03,428.23 292.49,428.31 292.95,428.38 293.41,428.46 293.88,428.53 294.34,428.60 294.80,428.68 295.26,428.75 295.72,428.83 296.18,428.90 296.65,428.98 297.11,429.05 297.57,429.12 298.03,429.20 298.49,429.27 298.95,429.35 299.42,429.42 299.88,429.49 300.34,429.57 300.80,429.64 301.26,429.71 301.72,429.79 302.19,429.86 302.65,429.93 303.11,430.01 303.57,430.08 304.03,430.15 304.49,430.23 304.96,430.30 305.42,430.37 305.88,430.45 306.34,430.52 306.80,430.59 307.26,430.66 307.73,430.74 308.19,430.81 308.65,430.88 309.11,430.95 309.57,431.03 310.03,431.10 310.50,431.17 310.96,431.24 311.42,431.32 311.88,431.39 312.34,431.46 312.80,431.53 313.27,431.61 313.73,431.68 314.19,431.75 314.65,431.82 315.11,431.89 315.57,431.96 316.04,432.04 316.50,432.11 316.96,432.18 317.42,432.25 317.88,432.32 318.34,432.39 318.81,432.47 319.27,432.54 319.73,432.61 320.19,432.68 320.65,432.75 321.11,432.82 321.58,432.89 322.04,432.96 322.50,433.04" stroke="#0A8A12"/>
<polyline points="45.50,582.33 45.96,582.31 46.42,582.29 46.88,582.27 47.35,582.25 47.81,582.23 48.27,582.21 48.73,582.19 49.19,582.17 49.65,582.15 50.12,582.13 50.58,582.11 51.04,582.09 51.50,582.07 51.96,582.05 52.42,582.03 52.89,582.01 53.35,581.98 53.81,581.96 54.27,581.94 54.73,581.92 55.19,581.90 55.66,581.87 56.12,581.85 56.58,581.83 57.04,581.81 57.50,581.78 57.96,581.76 58.43,581.73 58.89,581.71 59.35,581.69 59.81,581.66 60.27,581.64 60.73,581.61 61.20,581.59 61.66,581.56 62.12,581.53 62.58,581.51 63.04,581.48 63.50,581.46 63.97,581.43 64.43,581.40 64.89,581.37 65.35,581.34 65.81,581.32 66.27,581.29 66.74,581.26 67.20,581.23 67.66,581.20 68.12,581.17 68.58,581.14 69.04,581.11 69.51,581.08 69.97,581.05 70.43,581.01 70.89,580.98 71.35,580.95 71.81,580.92 72.28,580.88 72.74,580.85 73.20,580.81 73.66,580.78 74.12,580.74 74.58,580.71 75.05,580.67 75.51,580.64 75.97,580.60 76.43,580.56 76.89,580.53 77.35,580.49 77.82,580.45 78.28,580.41 78.74,580.37 79.20,580.33 79.66,580.29 80.12,580.25 80.59,580.21 81.05,580.16 81.51,580.12 81.97,580.08 82.43,580.04 82.89,579.99 83.36,579.95 83.82,579.90 84.28,579.85 84.74,579.81 85.20,579.76 85.66,579.71 86.13,579.66 86.59,579.61 87.05,579.56 87.51,579.51 87.97,579.46 88.43,579.40 88.90,579.35 89.36,579.29 89.82,579.24 90.28,579.18 90.74,579.12 91.20,579.06 91.67,579.00 92.13,578.94 92.59,578.87 93.05,578.81 93.51,578.74 93.97,578.67 94.44,578.60 94.90,578.53 95.36,578.45 95.82,578.38 96.28,578.30 96.74,578.22 97.21,578.13 97.67,578.05 98.13,577.96 98.59,577.86 99.05,577.77 99.51,577.67 99.98,577.57 100.44,577.46 100.90,577.35 101.36,577.24 101.82,577.12 102.28,576.99 102.75,576.87 103.21,576.73 103.67,576.59 104.13,576.45 104.59,576.30 105.05,576.14 105.52,575.98 105.98,575.81 106.44,575.63 106.90,575.44 107.36,575.25 107.82,575.05 108.29,574.84 108.75,574.61 109.21,574.38 109.67,574.14 110.13,573.89 110.59,573.63 111.06,573.35 111.52,573.06 111.98,572.76 112.44,572.45 112.90,572.12 113.36,571.78 113.83,571.42 114.29,571.04 114.75,570.65 115.21,570.25 115.67,569.82 116.13,569.38 116.60,568.91 117.06,568.43 117.52,567.93 117.98,567.41 118.44,566.86 118.90,566.29 119.37,565.70 119.83,565.09 120.29,564.45 120.75,563.79 121.21,563.10 121.67,562.38 122.14,561.64 122.60,560.87 123.06,560.07 123.52,559.25 123.98,558.39 124.44,557.50 124.91,556.59 125.37,555.64 125.83,554.66 126.29,553.65 126.75,552.61 127.21,551.53 127.68,550.42 128.14,549.28 128.60,548.10 129.06,546.89 129.52,545.64 129.98,544.36 130.45,543.05 130.91,541.70 131.37,540.31 131.83,538.89 132.29,537.44 132.75,535.95 133.22,534.43 133.68,532.87 134.14,531.28 134.60,529.65 135.06,527.99 135.52,526.30 135.99,524.57 136.45,522.82 136.91,521.03 137.37,519.21 137.83,517.36 138.29,515.48 138.76,513.58 139.22,511.65 139.68,509.69 140.14,507.70 140.60,505.70 141.06,503.66 141.53,501.61 141.99,499.54 142.45,497.45 142.91,495.34 143.37,493.21 143.83,491.07 144.30,488.92 144.76,486.75 145.22,484.57 145.68,482.39 146.14,480.20 146.60,478.00 147.07,475.80 147.53,473.60 147.99,471.39 148.45,469.19 148.91,466.99 149.37,464.80 149.84,462.61 150.30,460.44 150.76,458.27 151.22,456.11 151.68,453.97 152.14,451.85 152.61,449.74 153.07,447.65 153.53,445.58 153.99,443.54 154.45,441.51 154.91,439.52 155.38,437.55 155.84,435.61 156.30,433.69 156.76,431.81 157.22,429.96 157.68,428.15 158.15,426.37 158.61,424.63 159.07,422.92 159.53,421.26 159.99,419.63 160.45,418.04 160.92,416.49 161.38,414.99 161.84,413.53 162.30,412.11 162.76,410.73 163.22,409.40 163.69,408.11 164.15,406.87 164.61,405.68 165.07,404.52 165.53,403.42 165.99,402.36 166.46,401.34 166.92,400.37 167.38,399.45 167.84,398.57 168.30,397.73 168.76,396.95 169.23,396.20 169.69,395.50 170.15,394.84 170.61,394.22 171.07,393.65 171.53,393.11 172.00,392.62 172.46,392.17 172.92,391.75 173.38,391.38 173.84,391.04 174.30,390.74 174.77,390.47 175.23,390.24 175.69,390.04 176.15,389.88 176.61,389.74 177.07,389.64 177.54,389.56 178.00,389.52 178.46,389.50 178.92,389.51 179.38,389.54 179.84,389.60 180.31,389.68 180.77,389.78 181.23,389.91 181.69,390.05 182.15,390.22 182.61,390.40 183.08,390.59 183.54,390.81 184.00,391.04 184.46,391.28 184.92,391.54 185.38,391.80 185.85,392.08 186.31,392.37 186.77,392.67 187.23,392.98 187.69,393.29 188.15,393.62 188.62,393.94 189.08,394.28 189.54,394.62 190.00,394.96 190.46,395.30 190.92,395.65 191.39,396.01 191.85,396.36 192.31,396.71 192.77,397.07 193.23,397.42 193.69,397.78 194.16,398.13 194.62,398.48 195.08,398.84 195.54,399.19 196.00,399.53 196.46,399.88 196.93,400.22 197.39,400.56 197.85,400.89 198.31,401.23 198.77,401.55 199.23,401.88 199.70,402.20 200.16,402.51 200.62,402.83 201.08,403.13 201.54,403.43 202.00,403.73 202.47,404.03 202.93,404.31 203.39,404.60 203.85,404.87 204.31,405.15 204.77,405.42 205.24,405.68 205.70,405.94 206.16,406.19 206.62,406.44 207.08,406.69 207.54,406.93 208.01,407.16 208.47,407.39 208.93,407.62 209.39,407.84 209.85,408.05 210.31,408.27 210.78,408.47 211.24,408.68 211.70,408.88 212.16,409.07 212.62,409.26 213.08,409.45 213.55,409.64 214.01,409.81 214.47,409.99 214.93,410.16 215.39,410.33 215.85,410.50 216.32,410.66 216.78,410.82 217.24,410.98 217.70,411.13 218.16,411.28 218.62,411.43 219.09,411.57 219.55,411.72 220.01,411.86 220.47,411.99 220.93,412.13 221.39,412.26 221.86,412.39 222.32,412.52 222.78,412.65 223.24,412.77 223.70,412.89 224.16,413.01 224.63,413.13 225.09,413.25 225.55,413.36 226.01,413.48 226.47,413.59 226.93,413.70 227.40,413.81 227.86,413.91 228.32,414.02 228.78,414.13 229.24,414.23 229.70,414.33 230.17,414.43 230.63,414.53 231.09,414.63 231.55,414.73 232.01,414.83 232.47,414.93 232.94,415.02 233.40,415.12 233.86,415.21 234.32,415.30 234.78,415.40 235.24,415.49 235.71,415.58 236.17,415.67 236.63,415.76 237.09,415.85 237.55,415.94 238.01,416.03 238.48,416.12 238.94,416.20 239.40,416.29 239.86,416.38 240.32,416.46 240.78,416.55 241.25,416.63 241.71,416.72 242.17,416.80 242.63,416.89 243.09,416.97 243.55,417.06 244.02,417.14 244.48,417.22 244.94,417.31 245.40,417.39 245.86,417.47 246.32,417.55 246.79,417.63 247.25,417.72 247.71,417.80 248.17,417.88 248.63,417.96 249.09,418.04 249.56,418.12 250.02,418.20 250.48,418.29 250.94,418.37 251.40,418.45 251.86,418.53 252.33,418.61 252.79,418.69 253.25,418.77 253.71,418.85 254.17,418.93 254.63,419.01 255.10,419.09 255.56,419.17 256.02,419.25 256.48,419.33 256.94,419.41 257.40,419.48 257.87,419.56 258.33,419.64 258.79,419.72 259.25,419.80 259.71,419.88 260.17,419.96 260.64,420.04 261.10,420.12 261.56,420.20 262.02,420.28 262.48,420.37 262.94,420.46 263.41,420.55 263.87,420.64 264.33,420.73 264.79,420.82 265.25,420.91 265.71,421.00 266.18,421.10 266.64,421.19 267.10,421.28 267.56,421.37 268.02,421.46 268.48,421.55 268.95,421.64 269.41,421.73 269.87,421.82 270.33,421.91 270.79,422.00 271.25,422.09 271.72,422.18 272.18,422.26 272.64,422.35 273.10,422.44 273.56,422.52 274.02,422.61 274.49,422.70 274.95,422.78 275.41,422.87 275.87,422.95 276.33,423.04 276.79,423.12 277.26,423.20 277.72,423.29 278.18,423.37 278.64,423.45 279.10,423.54 279.56,423.62 280.03,423.70 280.49,423.78 280.95,423.86 281.41,423.95 281.87,424.03 282.33,424.11 282.80,424.19 283.26,424.27 283.72,424.35 284.18,424.43 284.64,424.51 285.10,424.59 285.57,424.67 286.03,424.75 286.49,424.83 286.95,424.91 287.41,424.99 287.87,425.07 288.34,425.15 288.80,425.23 289.26,425.30 289.72,425.38 290.18,425.46 290.64,425.54 291.11,425.62 291.57,425.70 292.03,425.77 292.49,425.85 292.95,425.93 293.41,426.01 293.88,426.09 294.34,426.16 294.80,426.24 295.26,426.32 295.72,426.39 296.18,426.47 296.65,426.55 297.11,426.63 297.57,426.70 298.03,426.78 298.49,426.86 298.95,426.93 299.42,427.01 299.88,427.09 300.34,427.16 300.80,427.24 301.26,427.31 301.72,427.39 302.19,427.47 302.65,427.54 303.11,427.62 303.57,427.69 304.03,427.77 304.49,427.85 304.96,427.92 305.42,428.00 305.88,428.07 306.34,428.15 306.80,428.22 307.26,428.30 307.73,428.38 308.19,428.45 308.65,428.53 309.11,428.60 309.57,428.68 310.03,428.75 310.50,428.83 310.96,428.90 311.42,428.98 311.88,429.05 312.34,429.13 312.80,429.20 313.27,429.28 313.73,429.35 314.19,429.42 314.65,429.50 315.11,429.57 315.57,429.65 316.04,429.72 316.50,429.80 316.96,429.87 317.42,429.95 317.88,430.02 318.34,430.09 318.81,430.17 319.27,430.24 319.73,430.32 320.19,430.39 320.65,430.47 321.11,430.54 321.58,430.61 322.04,430.69 322.50,430.76" stroke="#19BFCC"/>
<polyline points="45.50,582.50 45.96,582.50 46.42,582.50 46.88,582.50 47.35,582.50 47.81,582.50 48.27,582.50 48.73,582.50 49.19,582.49 49.65,582.48 50.12,582.47 50.58,582.46 51.04,582.45 51.50,582.44 51.96,582.42 52.42,582.41 52.89,582.40 53.35,582.38 53.81,582.37 54.27,582.36 54.73,582.34 55.19,582.33 55.66,582.31 56.12,582.30 56.58,582.28 57.04,582.26 57.50,582.25 57.96,582.23 58.43,582.22 58.89,582.20 59.35,582.18 59.81,582.16 60.27,582.15 60.73,582.13 61.20,582.11 61.66,582.09 62.12,582.07 62.58,582.05 63.04,582.03 63.50,582.01 63.97,581.99 64.43,581.97 64.89,581.95 65.35,581.93 65.81,581.90 66.27,581.88 66.74,581.86 67.20,581.83 67.66,581.81 68.12,581.78 68.58,581.76 69.04,581.73 69.51,581.70 69.97,581.68 70.43,581.65 70.89,581.62 71.35,581.59 71.81,581.56 72.28,581.53 72.74,581.50 73.20,581.47 73.66,581.43 74.12,581.40 74.58,581.36 75.05,581.33 75.51,581.29 75.97,581.26 76.43,581.22 76.89,581.18 77.35,581.14 77.82,581.10 78.28,581.06 78.74,581.02 79.20,580.98 79.66,580.93 80.12,580.89 80.59,580.84 81.05,580.79 81.51,580.75 81.97,580.70 82.43,580.65 82.89,580.60 83.36,580.55 83.82,580.49 84.28,580.44 84.74,580.38 85.20,580.33 85.66,580.27 86.13,580.21 86.59,580.15 87.05,580.09 87.51,580.03 87.97,579.97 88.43,579.90 88.90,579.84 89.36,579.77 89.82,579.70 90.28,579.63 90.74,579.56 91.20,579.48 91.67,579.41 92.13,579.33 92.59,579.25 93.05,579.17 93.51,579.09 93.97,579.01 94.44,578.92 94.90,578.84 95.36,578.75 95.82,578.66 96.28,578.56 96.74,578.47 97.21,578.37 97.67,578.27 98.13,578.17 98.59,578.07 99.05,577.96 99.51,577.85 99.98,577.74 100.44,577.63 100.90,577.51 101.36,577.39 101.82,577.26 102.28,577.14 102.75,577.01 103.21,576.88 103.67,576.74 104.13,576.60 104.59,576.45 105.05,576.31 105.52,576.15 105.98,576.00 106.44,575.84 106.90,575.67 107.36,575.50 107.82,575.32 108.29,575.14 108.75,574.95 109.21,574.76 109.67,574.56 110.13,574.36 110.59,574.15 111.06,573.93 111.52,573.70 111.98,573.47 112.44,573.23 112.90,572.98 113.36,572.72 113.83,572.45 114.29,572.18 114.75,571.89 115.21,571.59 115.67,571.29 116.13,570.97 116.60,570.64 117.06,570.30 117.52,569.95 117.98,569.59 118.44,569.21 118.90,568.82 119.37,568.41 119.83,567.99 120.29,567.56 120.75,567.11 121.21,566.64 121.67,566.16 122.14,565.66 122.60,565.14 123.06,564.61 123.52,564.05 123.98,563.48 124.44,562.89 124.91,562.27 125.37,561.64 125.83,560.98 126.29,560.30 126.75,559.60 127.21,558.87 127.68,558.12 128.14,557.35 128.60,556.55 129.06,555.73 129.52,554.88 129.98,554.00 130.45,553.10 130.91,552.17 131.37,551.21 131.83,550.22 132.29,549.21 132.75,548.16 133.22,547.09 133.68,545.99 134.14,544.85 134.60,543.69 135.06,542.49 135.52,541.27 135.99,540.01 136.45,538.72 136.91,537.41 137.37,536.06 137.83,534.68 138.29,533.26 138.76,531.82 139.22,530.35 139.68,528.84 140.14,527.31 140.60,525.74 141.06,524.14 141.53,522.52 141.99,520.86 142.45,519.18 142.91,517.47 143.37,515.73 143.83,513.97 144.30,512.17 144.76,510.36 145.22,508.51 145.68,506.65 146.14,504.76 146.60,502.85 147.07,500.92 147.53,498.96 147.99,496.99 148.45,495.00 148.91,493.00 149.37,490.98 149.84,488.94 150.30,486.89 150.76,484.83 151.22,482.76 151.68,480.69 152.14,478.60 152.61,476.51 153.07,474.41 153.53,472.32 153.99,470.22 154.45,468.12 154.91,466.02 155.38,463.93 155.84,461.84 156.30,459.76 156.76,457.68 157.22,455.62 157.68,453.57 158.15,451.53 158.61,449.51 159.07,447.50 159.53,445.51 159.99,443.54 160.45,441.59 160.92,439.66 161.38,437.76 161.84,435.88 162.30,434.03 162.76,432.21 163.22,430.41 163.69,428.65 164.15,426.91 164.61,425.21 165.07,423.54 165.53,421.91 165.99,420.32 166.46,418.76 166.92,417.23 167.38,415.75 167.84,414.31 168.30,412.90 168.76,411.54 169.23,410.21 169.69,408.93 170.15,407.69 170.61,406.49 171.07,405.34 171.53,404.23 172.00,403.15 172.46,402.13 172.92,401.14 173.38,400.21 173.84,399.31 174.30,398.45 174.77,397.64 175.23,396.87 175.69,396.14 176.15,395.46 176.61,394.81 177.07,394.21 177.54,393.64 178.00,393.12 178.46,392.63 178.92,392.19 179.38,391.78 179.84,391.41 180.31,391.07 180.77,390.77 181.23,390.50 181.69,390.27 182.15,390.07 182.61,389.90 183.08,389.76 183.54,389.66 184.00,389.58 184.46,389.53 184.92,389.50 185.38,389.50 185.85,389.53 186.31,389.58 186.77,389.66 187.23,389.75 187.69,389.87 188.15,390.00 188.62,390.16 189.08,390.33 189.54,390.52 190.00,390.73 190.46,390.95 190.92,391.18 191.39,391.43 191.85,391.69 192.31,391.96 192.77,392.24 193.23,392.53 193.69,392.83 194.16,393.14 194.62,393.45 195.08,393.77 195.54,394.10 196.00,394.43 196.46,394.76 196.93,395.10 197.39,395.44 197.85,395.79 198.31,396.13 198.77,396.48 199.23,396.83 199.70,397.18 200.16,397.52 200.62,397.87 201.08,398.22 201.54,398.56 202.00,398.91 202.47,399.25 202.93,399.58 203.39,399.92 203.85,400.25 204.31,400.58 204.77,400.91 205.24,401.23 205.70,401.55 206.16,401.86 206.62,402.17 207.08,402.47 207.54,402.77 208.01,403.07 208.47,403.36 208.93,403.65 209.39,403.93 209.85,404.20 210.31,404.48 210.78,404.74 211.24,405.00 211.70,405.26 212.16,405.51 212.62,405.76 213.08,406.00 213.55,406.24 214.01,406.47 214.47,406.70 214.93,406.93 215.39,407.15 215.85,407.36 216.32,407.57 216.78,407.78 217.24,407.98 217.70,408.18 218.16,408.37 218.62,408.56 219.09,408.75 219.55,408.93 220.01,409.11 220.47,409.28 220.93,409.45 221.39,409.62 221.86,409.79 222.32,409.95 222.78,410.11 223.24,410.26 223.70,410.41 224.16,410.56 224.63,410.71 225.09,410.85 225.55,411.00 226.01,411.14 226.47,411.27 226.93,411.41 227.40,411.54 227.86,411.67 228.32,411.80 228.78,411.93 229.24,412.05 229.70,412.18 230.17,412.30 230.63,412.42 231.09,412.53 231.55,412.65 232.01,412.77 232.47,412.88 232.94,412.99 233.40,413.10 233.86,413.21 234.32,413.32 234.78,413.43 235.24,413.54 235.71,413.64 236.17,413.75 236.63,413.85 237.09,413.95 237.55,414.06 238.01,414.16 238.48,414.26 238.94,414.36 239.40,414.46 239.86,414.56 240.32,414.65 240.78,414.75 241.25,414.85 241.71,414.94 242.17,415.04 242.63,415.13 243.09,415.23 243.55,415.32 244.02,415.41 244.48,415.51 244.94,415.60 245.40,415.69 245.86,415.78 246.32,415.87 246.79,415.96 247.25,416.06 247.71,416.15 248.17,416.24 248.63,416.32 249.09,416.41 249.56,416.50 250.02,416.59 250.48,416.68 250.94,416.77 251.40,416.86 251.86,416.94 252.33,417.03 252.79,417.12 253.25,417.21 253.71,417.29 254.17,417.38 254.63,417.46 255.10,417.55 255.56,417.64 256.02,417.72 256.48,417.81 256.94,417.89 257.40,417.98 257.87,418.06 258.33,418.15 258.79,418.23 259.25,418.32 259.71,418.40 260.17,418.48 260.64,418.57 261.10,418.65 261.56,418.73 262.02,418.82 262.48,418.90 262.94,418.98 263.41,419.07 263.87,419.15 264.33,419.23 264.79,419.31 265.25,419.39 265.71,419.48 266.18,419.56 266.64,419.64 267.10,419.72 267.56,419.80 268.02,419.88 268.48,419.96 268.95,420.05 269.41,420.13 269.87,420.21 270.33,420.29 270.79,420.37 271.25,420.46 271.72,420.55 272.18,420.64 272.64,420.73 273.10,420.82 273.56,420.90 274.02,420.99 274.49,421.08 274.95,421.17 275.41,421.25 275.87,421.34 276.33,421.43 276.79,421.51 277.26,421.60 277.72,421.68 278.18,421.76 278.64,421.85 279.10,421.93 279.56,422.01 280.03,422.09 280.49,422.17 280.95,422.25 281.41,422.33 281.87,422.41 282.33,422.49 282.80,422.57 283.26,422.65 283.72,422.73 284.18,422.81 284.64,422.89 285.10,422.96 285.57,423.04 286.03,423.12 286.49,423.19 286.95,423.27 287.41,423.35 287.87,423.42 288.34,423.50 288.80,423.58 289.26,423.65 289.72,423.73 290.18,423.80 290.64,423.88 291.11,423.95 291.57,424.03 292.03,424.10 292.49,424.18 292.95,424.25 293.41,424.33 293.88,424.40 294.34,424.47 294.80,424.55 295.26,424.62 295.72,424.70 296.18,424.77 296.65,424.84 297.11,424.92 297.57,424.99 298.03,425.06 298.49,425.14 298.95,425.21 299.42,425.28 299.88,425.36 300.34,425.43 300.80,425.50 301.26,425.57 301.72,425.65 302.19,425.72 302.65,425.79 303.11,425.86 303.57,425.94 304.03,426.01 304.49,426.08 304.96,426.15 305.42,426.23 305.88,426.30 306.34,426.37 306.80,426.44 307.26,426.51 307.73,426.59 308.19,426.66 308.65,426.73 309.11,426.80 309.57,426.87 310.03,426.94 310.50,427.02 310.96,427.09 311.42,427.16 311.88,427.23 312.34,427.30 312.80,427.37 313.27,427.44 313.73,427.52 314.19,427.59 314.65,427.66 315.11,427.73 315.57,427.80 316.04,427.87 316.50,427.94 316.96,428.01 317.42,428.08 317.88,428.15 318.34,428.23 318.81,428.30 319.27,428.37 319.73,428.44 320.19,428.51 320.65,428.58 321.11,428.65 321.58,428.72 322.04,428.79 322.50,428.86" stroke="#0072BD"/>
</g>
<rect x="45.5" y="370.5" width="277" height="231.5" fill="none" stroke="#737373" stroke-width="1"/>
<text x="45.50" y="618.2" text-anchor="middle" font-family="'Liberation Sans', sans-serif" font-size="13" fill="#1a1a1a">−100</text>
<text x="91.67" y="618.2" text-anchor="middle" font-family="'Liberation Sans', sans-serif" font-size="13" fill="#1a1a1a">−50</text>
<text x="137.83" y="618.2" text-anchor="middle" font-family="'Liberation Sans', sans-serif" font-size="13" fill="#1a1a1a">0</text>
<text x="184.00" y="618.2" text-anchor="middle" font-family="'Liberation Sans', sans-serif" font-size="13" fill="#1a1a1a">50</text>
<text x="230.17" y="618.2" text-anchor="middle" font-family="'Liberation Sans', sans-serif" font-size="13" fill="#1a1a1a">100</text>
<text x="276.33" y="618.2" text-anchor="middle" font-family="'Liberation Sans', sans-serif" font-size="13" fill="#1a1a1a">150</text>
<text x="322.50" y="618.2" text-anchor="middle" font-family="'Liberation Sans', sans-serif" font-size="13" fill="#1a1a1a">200</text>
<text x="40.20" y="587.10" text-anchor="end" font-family="'Liberation Sans', sans-serif" font-size="13" fill="#1a1a1a">0</text>
<text x="40.20" y="548.50" text-anchor="end" font-family="'Liberation Sans', sans-serif" font-size="13" fill="#1a1a1a">0.2</text>
<text x="40.20" y="509.90" text-anchor="end" font-family="'Liberation Sans', sans-serif" font-size="13" fill="#1a1a1a">0.4</text>
<text x="40.20" y="471.30" text-anchor="end" font-family="'Liberation Sans', sans-serif" font-size="13" fill="#1a1a1a">0.6</text>
<text x="40.20" y="432.70" text-anchor="end" font-family="'Liberation Sans', sans-serif" font-size="13" fill="#1a1a1a">0.8</text>
<text x="40.20" y="394.10" text-anchor="end" font-family="'Liberation Sans', sans-serif" font-size="13" fill="#1a1a1a">1</text>
<path d="M45.50,602.0 v-3.3 M45.50,370.5 v2.8 M91.67,602.0 v-3.3 M91.67,370.5 v2.8 M137.83,602.0 v-3.3 M137.83,370.5 v2.8 M184.00,602.0 v-3.3 M184.00,370.5 v2.8 M230.17,602.0 v-3.3 M230.17,370.5 v2.8 M276.33,602.0 v-3.3 M276.33,370.5 v2.8 M322.50,602.0 v-3.3 M322.50,370.5 v2.8 M45.5,582.50 h2.8 M322.5,582.50 h-2.8 M45.5,543.90 h2.8 M322.5,543.90 h-2.8 M45.5,505.30 h2.8 M322.5,505.30 h-2.8 M45.5,466.70 h2.8 M322.5,466.70 h-2.8 M45.5,428.10 h2.8 M322.5,428.10 h-2.8 M45.5,389.50 h2.8 M322.5,389.50 h-2.8" stroke="#333" stroke-width="1"/>
<text x="57.9" y="388.7" font-family="'Liberation Sans', sans-serif" font-size="11.4" fill="#111">A exciton</text>
<text transform="translate(12.200000000000003,486.3) rotate(-90)" text-anchor="middle" font-family="'Liberation Sans', sans-serif" font-size="13" fill="#1a1a1a">Δ<tspan font-style="italic">R</tspan>/<tspan font-style="italic">R</tspan> (norm.)</text>
<text x="184.0" y="636.9" text-anchor="middle" font-family="'Liberation Sans', sans-serif" font-size="13" fill="#1a1a1a"><tspan font-family="'Liberation Serif', serif" font-style="italic">τ</tspan> (fs)</text>
<rect x="194.5" y="488.5" width="108" height="64" fill="#fff" stroke="#737373" stroke-width="1"/>
<text x="223.95" y="563.8" text-anchor="middle" font-family="'Liberation Sans', sans-serif" font-size="8.8" fill="#1a1a1a">2.4</text>
<text x="263.23" y="563.8" text-anchor="middle" font-family="'Liberation Sans', sans-serif" font-size="8.8" fill="#1a1a1a">2.6</text>
<text x="302.50" y="563.8" text-anchor="middle" font-family="'Liberation Sans', sans-serif" font-size="8.8" fill="#1a1a1a">2.8</text>
<text x="191.20" y="555.60" text-anchor="end" font-family="'Liberation Sans', sans-serif" font-size="8.8" fill="#1a1a1a">0</text>
<text x="191.20" y="523.60" text-anchor="end" font-family="'Liberation Sans', sans-serif" font-size="8.8" fill="#1a1a1a">10</text>
<text x="191.20" y="491.60" text-anchor="end" font-family="'Liberation Sans', sans-serif" font-size="8.8" fill="#1a1a1a">20</text>
<path d="M223.95,552.5 v-2 M223.95,488.5 v2 M263.23,552.5 v-2 M263.23,488.5 v2 M302.50,552.5 v-2 M302.50,488.5 v2 M194.5,552.50 h2 M302.5,552.50 h-2 M194.5,520.50 h2 M302.5,520.50 h-2 M194.5,488.50 h2 M302.5,488.50 h-2" stroke="#333" stroke-width="0.8"/>
<text x="248.50" y="576.6" text-anchor="middle" font-family="'Liberation Sans', sans-serif" font-size="9.4" fill="#1a1a1a">Pump energy (eV)</text>
<text transform="translate(170.60,535.9) rotate(-90)" font-family="'Liberation Serif', serif" font-style="italic" font-size="9.6" fill="#1a1a1a">τ</text>
<text transform="translate(174.40,529.1) rotate(-90)" font-family="'Liberation Sans', sans-serif" font-size="6.4" fill="#1a1a1a">rise</text>
<text transform="translate(170.90,515.9) rotate(-90)" font-family="'Liberation Sans', sans-serif" font-size="9.3" fill="#1a1a1a">(fs)</text>
<circle cx="202.35" cy="551.41" r="2.45" fill="none" stroke="#C00000" stroke-width="1.6"/>
<circle cx="229.84" cy="534.90" r="2.45" fill="none" stroke="#C00000" stroke-width="1.6"/>
<circle cx="250.46" cy="520.82" r="2.45" fill="none" stroke="#C00000" stroke-width="1.6"/>
<circle cx="269.12" cy="505.78" r="2.45" fill="none" stroke="#C00000" stroke-width="1.6"/>
<circle cx="292.68" cy="491.38" r="2.45" fill="none" stroke="#C00000" stroke-width="1.6"/>
<clipPath id="pcB"><rect x="397.5" y="370.5" width="277" height="231"/></clipPath>
<g clip-path="url(#pcB)" fill="none" stroke-width="2">
<polyline points="397.50,582.50 397.96,582.50 398.42,582.50 398.88,582.50 399.35,582.50 399.81,582.50 400.27,582.50 400.73,582.50 401.19,582.50 401.65,582.50 402.12,582.50 402.58,582.50 403.04,582.50 403.50,582.50 403.96,582.50 404.42,582.50 404.89,582.50 405.35,582.50 405.81,582.50 406.27,582.50 406.73,582.50 407.19,582.50 407.66,582.50 408.12,582.50 408.58,582.50 409.04,582.50 409.50,582.50 409.96,582.50 410.43,582.50 410.89,582.50 411.35,582.50 411.81,582.50 412.27,582.50 412.73,582.50 413.20,582.50 413.66,582.50 414.12,582.50 414.58,582.50 415.04,582.50 415.50,582.50 415.97,582.50 416.43,582.50 416.89,582.50 417.35,582.50 417.81,582.50 418.27,582.50 418.74,582.50 419.20,582.50 419.66,582.50 420.12,582.50 420.58,582.50 421.04,582.50 421.51,582.50 421.97,582.50 422.43,582.50 422.89,582.50 423.35,582.50 423.81,582.49 424.28,582.49 424.74,582.49 425.20,582.49 425.66,582.49 426.12,582.49 426.58,582.49 427.05,582.49 427.51,582.49 427.97,582.49 428.43,582.48 428.89,582.48 429.35,582.48 429.82,582.48 430.28,582.48 430.74,582.47 431.20,582.47 431.66,582.47 432.12,582.47 432.59,582.46 433.05,582.46 433.51,582.45 433.97,582.45 434.43,582.44 434.89,582.44 435.36,582.43 435.82,582.43 436.28,582.42 436.74,582.41 437.20,582.40 437.66,582.39 438.13,582.38 438.59,582.37 439.05,582.36 439.51,582.35 439.97,582.33 440.43,582.32 440.90,582.30 441.36,582.28 441.82,582.27 442.28,582.24 442.74,582.22 443.20,582.20 443.67,582.17 444.13,582.14 444.59,582.11 445.05,582.08 445.51,582.04 445.97,582.00 446.44,581.96 446.90,581.92 447.36,581.87 447.82,581.82 448.28,581.76 448.74,581.70 449.21,581.63 449.67,581.56 450.13,581.49 450.59,581.40 451.05,581.32 451.51,581.22 451.98,581.12 452.44,581.00 452.90,580.88 453.36,580.75 453.82,580.62 454.28,580.46 454.75,580.30 455.21,580.13 455.67,579.94 456.13,579.73 456.59,579.51 457.05,579.28 457.52,579.02 457.98,578.75 458.44,578.45 458.90,578.13 459.36,577.79 459.82,577.42 460.29,577.02 460.75,576.59 461.21,576.14 461.67,575.64 462.13,575.11 462.59,574.55 463.06,573.94 463.52,573.29 463.98,572.59 464.44,571.85 464.90,571.05 465.36,570.21 465.83,569.30 466.29,568.34 466.75,567.32 467.21,566.23 467.67,565.08 468.13,563.85 468.60,562.56 469.06,561.19 469.52,559.74 469.98,558.22 470.44,556.61 470.90,554.92 471.37,553.15 471.83,551.29 472.29,549.34 472.75,547.31 473.21,545.18 473.67,542.96 474.14,540.66 474.60,538.26 475.06,535.78 475.52,533.20 475.98,530.54 476.44,527.79 476.91,524.96 477.37,522.05 477.83,519.06 478.29,515.99 478.75,512.85 479.21,509.64 479.68,506.37 480.14,503.04 480.60,499.66 481.06,496.23 481.52,492.75 481.98,489.24 482.45,485.71 482.91,482.15 483.37,478.57 483.83,474.98 484.29,471.40 484.75,467.81 485.22,464.25 485.68,460.70 486.14,457.18 486.60,453.69 487.06,450.25 487.52,446.86 487.99,443.52 488.45,440.25 488.91,437.05 489.37,433.92 489.83,430.88 490.29,427.92 490.76,425.06 491.22,422.29 491.68,419.62 492.14,417.07 492.60,414.61 493.06,412.28 493.53,410.05 493.99,407.95 494.45,405.95 494.91,404.09 495.37,402.33 495.83,400.70 496.30,399.19 496.76,397.80 497.22,396.52 497.68,395.37 498.14,394.32 498.60,393.39 499.07,392.56 499.53,391.85 499.99,391.23 500.45,390.72 500.91,390.30 501.37,389.97 501.84,389.73 502.30,389.58 502.76,389.51 503.22,389.51 503.68,389.59 504.14,389.73 504.61,389.93 505.07,390.20 505.53,390.51 505.99,390.88 506.45,391.30 506.91,391.75 507.38,392.25 507.84,392.78 508.30,393.34 508.76,393.92 509.22,394.54 509.68,395.17 510.15,395.82 510.61,396.48 511.07,397.16 511.53,397.85 511.99,398.54 512.45,399.24 512.92,399.95 513.38,400.65 513.84,401.35 514.30,402.06 514.76,402.75 515.22,403.45 515.69,404.14 516.15,404.82 516.61,405.49 517.07,406.15 517.53,406.81 517.99,407.45 518.46,408.08 518.92,408.71 519.38,409.32 519.84,409.92 520.30,410.50 520.76,411.08 521.23,411.64 521.69,412.19 522.15,412.73 522.61,413.25 523.07,413.77 523.53,414.27 524.00,414.75 524.46,415.23 524.92,415.69 525.38,416.15 525.84,416.59 526.30,417.02 526.77,417.44 527.23,417.84 527.69,418.24 528.15,418.63 528.61,419.00 529.07,419.37 529.54,419.73 530.00,420.07 530.46,420.41 530.92,420.74 531.38,421.06 531.84,421.37 532.31,421.67 532.77,421.97 533.23,422.26 533.69,422.54 534.15,422.81 534.61,423.08 535.08,423.34 535.54,423.59 536.00,423.83 536.46,424.07 536.92,424.31 537.38,424.54 537.85,424.76 538.31,424.97 538.77,425.19 539.23,425.39 539.69,425.59 540.15,425.79 540.62,425.98 541.08,426.17 541.54,426.35 542.00,426.53 542.46,426.71 542.92,426.88 543.39,427.05 543.85,427.21 544.31,427.38 544.77,427.53 545.23,427.69 545.69,427.84 546.16,427.99 546.62,428.13 547.08,428.28 547.54,428.42 548.00,428.55 548.46,428.69 548.93,428.82 549.39,428.95 549.85,429.08 550.31,429.21 550.77,429.33 551.23,429.45 551.70,429.57 552.16,429.69 552.62,429.81 553.08,429.92 553.54,430.04 554.00,430.15 554.47,430.26 554.93,430.37 555.39,430.48 555.85,430.58 556.31,430.69 556.77,430.79 557.24,430.90 557.70,431.00 558.16,431.10 558.62,431.20 559.08,431.30 559.54,431.39 560.01,431.49 560.47,431.59 560.93,431.68 561.39,431.78 561.85,431.87 562.31,431.96 562.78,432.05 563.24,432.15 563.70,432.24 564.16,432.33 564.62,432.41 565.08,432.50 565.55,432.59 566.01,432.68 566.47,432.77 566.93,432.85 567.39,432.94 567.85,433.02 568.32,433.11 568.78,433.19 569.24,433.28 569.70,433.36 570.16,433.44 570.62,433.53 571.09,433.61 571.55,433.69 572.01,433.77 572.47,433.86 572.93,433.94 573.39,434.02 573.86,434.10 574.32,434.18 574.78,434.26 575.24,434.34 575.70,434.42 576.16,434.50 576.63,434.58 577.09,434.65 577.55,434.73 578.01,434.81 578.47,434.89 578.93,434.97 579.40,435.05 579.86,435.12 580.32,435.20 580.78,435.28 581.24,435.35 581.70,435.43 582.17,435.51 582.63,435.59 583.09,435.66 583.55,435.74 584.01,435.81 584.47,435.89 584.94,435.97 585.40,436.04 585.86,436.12 586.32,436.19 586.78,436.27 587.24,436.34 587.71,436.42 588.17,436.49 588.63,436.57 589.09,436.64 589.55,436.72 590.01,436.79 590.48,436.87 590.94,436.94 591.40,437.02 591.86,437.09 592.32,437.17 592.78,437.24 593.25,437.31 593.71,437.39 594.17,437.46 594.63,437.54 595.09,437.61 595.55,437.68 596.02,437.76 596.48,437.83 596.94,437.90 597.40,437.98 597.86,438.05 598.32,438.12 598.79,438.20 599.25,438.27 599.71,438.34 600.17,438.42 600.63,438.49 601.09,438.56 601.56,438.63 602.02,438.71 602.48,438.78 602.94,438.85 603.40,438.93 603.86,439.00 604.33,439.07 604.79,439.14 605.25,439.22 605.71,439.29 606.17,439.36 606.63,439.43 607.10,439.50 607.56,439.58 608.02,439.65 608.48,439.72 608.94,439.79 609.40,439.86 609.87,439.94 610.33,440.01 610.79,440.08 611.25,440.15 611.71,440.22 612.17,440.30 612.64,440.37 613.10,440.44 613.56,440.51 614.02,440.58 614.48,440.65 614.94,440.73 615.41,440.80 615.87,440.87 616.33,440.94 616.79,441.01 617.25,441.08 617.71,441.15 618.18,441.22 618.64,441.30 619.10,441.37 619.56,441.44 620.02,441.51 620.48,441.58 620.95,441.65 621.41,441.72 621.87,441.79 622.33,441.86 622.79,441.93 623.25,442.00 623.72,442.08 624.18,442.15 624.64,442.22 625.10,442.29 625.56,442.36 626.02,442.43 626.49,442.50 626.95,442.57 627.41,442.64 627.87,442.71 628.33,442.78 628.79,442.85 629.26,442.92 629.72,442.99 630.18,443.06 630.64,443.13 631.10,443.20 631.56,443.27 632.03,443.34 632.49,443.41 632.95,443.48 633.41,443.55 633.87,443.62 634.33,443.69 634.80,443.76 635.26,443.83 635.72,443.90 636.18,443.97 636.64,444.04 637.10,444.11 637.57,444.18 638.03,444.25 638.49,444.32 638.95,444.39 639.41,444.46 639.87,444.53 640.34,444.60 640.80,444.67 641.26,444.73 641.72,444.80 642.18,444.87 642.64,444.94 643.11,445.01 643.57,445.08 644.03,445.15 644.49,445.22 644.95,445.29 645.41,445.36 645.88,445.43 646.34,445.49 646.80,445.56 647.26,445.63 647.72,445.70 648.18,445.77 648.65,445.84 649.11,445.91 649.57,445.98 650.03,446.04 650.49,446.11 650.95,446.18 651.42,446.25 651.88,446.32 652.34,446.39 652.80,446.46 653.26,446.52 653.72,446.59 654.19,446.66 654.65,446.73 655.11,446.80 655.57,446.87 656.03,446.93 656.49,447.00 656.96,447.07 657.42,447.14 657.88,447.21 658.34,447.27 658.80,447.34 659.26,447.41 659.73,447.48 660.19,447.55 660.65,447.61 661.11,447.68 661.57,447.75 662.03,447.82 662.50,447.88 662.96,447.95 663.42,448.02 663.88,448.09 664.34,448.16 664.80,448.22 665.27,448.29 665.73,448.36 666.19,448.43 666.65,448.49 667.11,448.56 667.57,448.63 668.04,448.69 668.50,448.76 668.96,448.83 669.42,448.90 669.88,448.96 670.34,449.03 670.81,449.10 671.27,449.17 671.73,449.23 672.19,449.30 672.65,449.37 673.11,449.43 673.58,449.50 674.04,449.57 674.50,449.63" stroke="#D95319"/>
<polyline points="397.50,582.50 397.96,582.50 398.42,582.50 398.88,582.50 399.35,582.50 399.81,582.50 400.27,582.50 400.73,582.50 401.19,582.50 401.65,582.50 402.12,582.50 402.58,582.50 403.04,582.50 403.50,582.50 403.96,582.50 404.42,582.50 404.89,582.50 405.35,582.50 405.81,582.50 406.27,582.50 406.73,582.50 407.19,582.50 407.66,582.50 408.12,582.50 408.58,582.50 409.04,582.50 409.50,582.50 409.96,582.50 410.43,582.50 410.89,582.50 411.35,582.50 411.81,582.50 412.27,582.50 412.73,582.50 413.20,582.50 413.66,582.50 414.12,582.50 414.58,582.50 415.04,582.50 415.50,582.50 415.97,582.50 416.43,582.50 416.89,582.50 417.35,582.50 417.81,582.50 418.27,582.50 418.74,582.50 419.20,582.50 419.66,582.50 420.12,582.50 420.58,582.50 421.04,582.50 421.51,582.50 421.97,582.50 422.43,582.50 422.89,582.50 423.35,582.50 423.81,582.50 424.28,582.50 424.74,582.50 425.20,582.50 425.66,582.50 426.12,582.50 426.58,582.49 427.05,582.49 427.51,582.49 427.97,582.49 428.43,582.49 428.89,582.49 429.35,582.49 429.82,582.49 430.28,582.49 430.74,582.49 431.20,582.49 431.66,582.48 432.12,582.48 432.59,582.48 433.05,582.48 433.51,582.48 433.97,582.48 434.43,582.47 434.89,582.47 435.36,582.47 435.82,582.47 436.28,582.46 436.74,582.46 437.20,582.45 437.66,582.45 438.13,582.45 438.59,582.44 439.05,582.44 439.51,582.43 439.97,582.42 440.43,582.42 440.90,582.41 441.36,582.40 441.82,582.39 442.28,582.39 442.74,582.38 443.20,582.36 443.67,582.35 444.13,582.34 444.59,582.33 445.05,582.31 445.51,582.30 445.97,582.28 446.44,582.26 446.90,582.24 447.36,582.22 447.82,582.19 448.28,582.17 448.74,582.14 449.21,582.11 449.67,582.07 450.13,582.03 450.59,581.99 451.05,581.95 451.51,581.90 451.98,581.85 452.44,581.79 452.90,581.73 453.36,581.66 453.82,581.59 454.28,581.51 454.75,581.42 455.21,581.32 455.67,581.22 456.13,581.10 456.59,580.98 457.05,580.84 457.52,580.70 457.98,580.53 458.44,580.36 458.90,580.17 459.36,579.96 459.82,579.74 460.29,579.49 460.75,579.23 461.21,578.94 461.67,578.63 462.13,578.29 462.59,577.93 463.06,577.54 463.52,577.11 463.98,576.66 464.44,576.16 464.90,575.63 465.36,575.06 465.83,574.45 466.29,573.80 466.75,573.10 467.21,572.35 467.67,571.55 468.13,570.69 468.60,569.79 469.06,568.82 469.52,567.79 469.98,566.70 470.44,565.54 470.90,564.32 471.37,563.03 471.83,561.66 472.29,560.23 472.75,558.72 473.21,557.13 473.67,555.46 474.14,553.72 474.60,551.90 475.06,549.99 475.52,548.01 475.98,545.94 476.44,543.79 476.91,541.56 477.37,539.25 477.83,536.86 478.29,534.39 478.75,531.84 479.21,529.22 479.68,526.52 480.14,523.75 480.60,520.92 481.06,518.02 481.52,515.05 481.98,512.03 482.45,508.95 482.91,505.82 483.37,502.65 483.83,499.43 484.29,496.18 484.75,492.90 485.22,489.59 485.68,486.26 486.14,482.92 486.60,479.56 487.06,476.21 487.52,472.85 487.99,469.51 488.45,466.18 488.91,462.86 489.37,459.58 489.83,456.33 490.29,453.11 490.76,449.94 491.22,446.82 491.68,443.75 492.14,440.75 492.60,437.80 493.06,434.92 493.53,432.12 493.99,429.39 494.45,426.74 494.91,424.18 495.37,421.70 495.83,419.31 496.30,417.01 496.76,414.81 497.22,412.69 497.68,410.68 498.14,408.76 498.60,406.95 499.07,405.23 499.53,403.61 499.99,402.08 500.45,400.66 500.91,399.32 501.37,398.09 501.84,396.95 502.30,395.90 502.76,394.94 503.22,394.07 503.68,393.28 504.14,392.58 504.61,391.95 505.07,391.41 505.53,390.94 505.99,390.54 506.45,390.21 506.91,389.95 507.38,389.75 507.84,389.61 508.30,389.53 508.76,389.50 509.22,389.52 509.68,389.59 510.15,389.70 510.61,389.85 511.07,390.05 511.53,390.27 511.99,390.53 512.45,390.82 512.92,391.14 513.38,391.48 513.84,391.85 514.30,392.23 514.76,392.63 515.22,393.05 515.69,393.48 516.15,393.93 516.61,394.38 517.07,394.85 517.53,395.32 517.99,395.80 518.46,396.28 518.92,396.76 519.38,397.24 519.84,397.73 520.30,398.22 520.76,398.70 521.23,399.19 521.69,399.67 522.15,400.14 522.61,400.62 523.07,401.09 523.53,401.55 524.00,402.01 524.46,402.46 524.92,402.91 525.38,403.35 525.84,403.78 526.30,404.21 526.77,404.63 527.23,405.04 527.69,405.45 528.15,405.85 528.61,406.24 529.07,406.62 529.54,407.00 530.00,407.37 530.46,407.73 530.92,408.09 531.38,408.43 531.84,408.77 532.31,409.11 532.77,409.44 533.23,409.76 533.69,410.07 534.15,410.38 534.61,410.68 535.08,410.97 535.54,411.26 536.00,411.54 536.46,411.82 536.92,412.09 537.38,412.35 537.85,412.61 538.31,412.87 538.77,413.12 539.23,413.36 539.69,413.60 540.15,413.83 540.62,414.06 541.08,414.29 541.54,414.51 542.00,414.72 542.46,414.94 542.92,415.14 543.39,415.35 543.85,415.55 544.31,415.74 544.77,415.93 545.23,416.12 545.69,416.31 546.16,416.49 546.62,416.67 547.08,416.84 547.54,417.01 548.00,417.18 548.46,417.35 548.93,417.51 549.39,417.67 549.85,417.83 550.31,417.99 550.77,418.14 551.23,418.29 551.70,418.44 552.16,418.59 552.62,418.73 553.08,418.87 553.54,419.01 554.00,419.15 554.47,419.29 554.93,419.42 555.39,419.55 555.85,419.68 556.31,419.81 556.77,419.94 557.24,420.07 557.70,420.19 558.16,420.31 558.62,420.43 559.08,420.55 559.54,420.67 560.01,420.79 560.47,420.91 560.93,421.02 561.39,421.13 561.85,421.25 562.31,421.36 562.78,421.47 563.24,421.58 563.70,421.69 564.16,421.79 564.62,421.90 565.08,422.01 565.55,422.11 566.01,422.21 566.47,422.32 566.93,422.42 567.39,422.52 567.85,422.62 568.32,422.72 568.78,422.82 569.24,422.92 569.70,423.01 570.16,423.11 570.62,423.21 571.09,423.30 571.55,423.40 572.01,423.49 572.47,423.59 572.93,423.68 573.39,423.77 573.86,423.87 574.32,423.96 574.78,424.05 575.24,424.14 575.70,424.23 576.16,424.32 576.63,424.41 577.09,424.50 577.55,424.59 578.01,424.68 578.47,424.77 578.93,424.86 579.40,424.94 579.86,425.03 580.32,425.12 580.78,425.20 581.24,425.29 581.70,425.38 582.17,425.46 582.63,425.55 583.09,425.63 583.55,425.72 584.01,425.80 584.47,425.89 584.94,425.97 585.40,426.06 585.86,426.14 586.32,426.22 586.78,426.31 587.24,426.39 587.71,426.47 588.17,426.56 588.63,426.64 589.09,426.72 589.55,426.80 590.01,426.88 590.48,426.97 590.94,427.05 591.40,427.13 591.86,427.21 592.32,427.29 592.78,427.37 593.25,427.45 593.71,427.53 594.17,427.61 594.63,427.70 595.09,427.78 595.55,427.86 596.02,427.94 596.48,428.02 596.94,428.10 597.40,428.18 597.86,428.25 598.32,428.33 598.79,428.41 599.25,428.49 599.71,428.57 600.17,428.65 600.63,428.73 601.09,428.81 601.56,428.89 602.02,428.97 602.48,429.04 602.94,429.12 603.40,429.20 603.86,429.28 604.33,429.36 604.79,429.44 605.25,429.51 605.71,429.59 606.17,429.67 606.63,429.75 607.10,429.82 607.56,429.90 608.02,429.98 608.48,430.06 608.94,430.13 609.40,430.21 609.87,430.29 610.33,430.37 610.79,430.44 611.25,430.52 611.71,430.60 612.17,430.67 612.64,430.75 613.10,430.83 613.56,430.90 614.02,430.98 614.48,431.06 614.94,431.13 615.41,431.21 615.87,431.29 616.33,431.36 616.79,431.44 617.25,431.52 617.71,431.59 618.18,431.67 618.64,431.74 619.10,431.82 619.56,431.90 620.02,431.97 620.48,432.05 620.95,432.12 621.41,432.20 621.87,432.28 622.33,432.35 622.79,432.43 623.25,432.50 623.72,432.58 624.18,432.65 624.64,432.73 625.10,432.80 625.56,432.88 626.02,432.96 626.49,433.03 626.95,433.11 627.41,433.18 627.87,433.26 628.33,433.33 628.79,433.41 629.26,433.48 629.72,433.56 630.18,433.63 630.64,433.71 631.10,433.78 631.56,433.86 632.03,433.93 632.49,434.00 632.95,434.08 633.41,434.15 633.87,434.23 634.33,434.30 634.80,434.38 635.26,434.45 635.72,434.53 636.18,434.60 636.64,434.67 637.10,434.75 637.57,434.82 638.03,434.90 638.49,434.97 638.95,435.05 639.41,435.12 639.87,435.19 640.34,435.27 640.80,435.34 641.26,435.41 641.72,435.49 642.18,435.56 642.64,435.64 643.11,435.71 643.57,435.78 644.03,435.86 644.49,435.93 644.95,436.00 645.41,436.08 645.88,436.15 646.34,436.22 646.80,436.30 647.26,436.37 647.72,436.44 648.18,436.52 648.65,436.59 649.11,436.66 649.57,436.74 650.03,436.81 650.49,436.88 650.95,436.96 651.42,437.03 651.88,437.10 652.34,437.18 652.80,437.25 653.26,437.32 653.72,437.39 654.19,437.47 654.65,437.54 655.11,437.61 655.57,437.69 656.03,437.76 656.49,437.83 656.96,437.90 657.42,437.98 657.88,438.05 658.34,438.12 658.80,438.19 659.26,438.27 659.73,438.34 660.19,438.41 660.65,438.48 661.11,438.55 661.57,438.63 662.03,438.70 662.50,438.77 662.96,438.84 663.42,438.91 663.88,438.99 664.34,439.06 664.80,439.13 665.27,439.20 665.73,439.27 666.19,439.35 666.65,439.42 667.11,439.49 667.57,439.56 668.04,439.63 668.50,439.70 668.96,439.78 669.42,439.85 669.88,439.92 670.34,439.99 670.81,440.06 671.27,440.13 671.73,440.21 672.19,440.28 672.65,440.35 673.11,440.42 673.58,440.49 674.04,440.56 674.50,440.63" stroke="#EDB120"/>
<polyline points="397.50,582.50 397.96,582.50 398.42,582.50 398.88,582.50 399.35,582.50 399.81,582.50 400.27,582.50 400.73,582.50 401.19,582.50 401.65,582.50 402.12,582.50 402.58,582.50 403.04,582.50 403.50,582.50 403.96,582.50 404.42,582.50 404.89,582.50 405.35,582.50 405.81,582.50 406.27,582.50 406.73,582.50 407.19,582.50 407.66,582.50 408.12,582.50 408.58,582.50 409.04,582.50 409.50,582.50 409.96,582.50 410.43,582.50 410.89,582.50 411.35,582.50 411.81,582.50 412.27,582.50 412.73,582.50 413.20,582.50 413.66,582.50 414.12,582.50 414.58,582.50 415.04,582.50 415.50,582.50 415.97,582.50 416.43,582.50 416.89,582.50 417.35,582.50 417.81,582.50 418.27,582.50 418.74,582.50 419.20,582.50 419.66,582.50 420.12,582.50 420.58,582.50 421.04,582.50 421.51,582.50 421.97,582.50 422.43,582.50 422.89,582.50 423.35,582.50 423.81,582.50 424.28,582.50 424.74,582.50 425.20,582.50 425.66,582.50 426.12,582.50 426.58,582.50 427.05,582.50 427.51,582.50 427.97,582.50 428.43,582.50 428.89,582.50 429.35,582.50 429.82,582.50 430.28,582.50 430.74,582.50 431.20,582.50 431.66,582.50 432.12,582.50 432.59,582.50 433.05,582.50 433.51,582.50 433.97,582.50 434.43,582.50 434.89,582.50 435.36,582.50 435.82,582.50 436.28,582.50 436.74,582.50 437.20,582.50 437.66,582.50 438.13,582.49 438.59,582.49 439.05,582.49 439.51,582.49 439.97,582.49 440.43,582.49 440.90,582.49 441.36,582.48 441.82,582.48 442.28,582.48 442.74,582.48 443.20,582.47 443.67,582.47 444.13,582.46 444.59,582.46 445.05,582.45 445.51,582.45 445.97,582.44 446.44,582.43 446.90,582.42 447.36,582.41 447.82,582.39 448.28,582.38 448.74,582.36 449.21,582.35 449.67,582.32 450.13,582.30 450.59,582.28 451.05,582.25 451.51,582.22 451.98,582.18 452.44,582.14 452.90,582.10 453.36,582.05 453.82,581.99 454.28,581.93 454.75,581.86 455.21,581.79 455.67,581.71 456.13,581.62 456.59,581.52 457.05,581.41 457.52,581.29 457.98,581.16 458.44,581.02 458.90,580.86 459.36,580.69 459.82,580.50 460.29,580.30 460.75,580.08 461.21,579.84 461.67,579.58 462.13,579.29 462.59,578.99 463.06,578.66 463.52,578.30 463.98,577.92 464.44,577.51 464.90,577.06 465.36,576.59 465.83,576.08 466.29,575.53 466.75,574.95 467.21,574.32 467.67,573.66 468.13,572.95 468.60,572.20 469.06,571.40 469.52,570.55 469.98,569.65 470.44,568.70 470.90,567.69 471.37,566.64 471.83,565.52 472.29,564.35 472.75,563.11 473.21,561.82 473.67,560.46 474.14,559.04 474.60,557.56 475.06,556.01 475.52,554.39 475.98,552.71 476.44,550.96 476.91,549.15 477.37,547.26 477.83,545.32 478.29,543.30 478.75,541.22 479.21,539.07 479.68,536.86 480.14,534.58 480.60,532.25 481.06,529.85 481.52,527.39 481.98,524.88 482.45,522.31 482.91,519.69 483.37,517.02 483.83,514.30 484.29,511.54 484.75,508.74 485.22,505.90 485.68,503.02 486.14,500.12 486.60,497.19 487.06,494.23 487.52,491.25 487.99,488.26 488.45,485.26 488.91,482.25 489.37,479.24 489.83,476.23 490.29,473.22 490.76,470.23 491.22,467.25 491.68,464.28 492.14,461.34 492.60,458.43 493.06,455.54 493.53,452.69 493.99,449.88 494.45,447.11 494.91,444.38 495.37,441.70 495.83,439.08 496.30,436.51 496.76,433.99 497.22,431.54 497.68,429.15 498.14,426.82 498.60,424.57 499.07,422.37 499.53,420.26 499.99,418.21 500.45,416.24 500.91,414.33 501.37,412.51 501.84,410.76 502.30,409.09 502.76,407.49 503.22,405.97 503.68,404.52 504.14,403.15 504.61,401.85 505.07,400.63 505.53,399.48 505.99,398.41 506.45,397.40 506.91,396.47 507.38,395.60 507.84,394.80 508.30,394.06 508.76,393.39 509.22,392.77 509.68,392.22 510.15,391.73 510.61,391.29 511.07,390.90 511.53,390.57 511.99,390.29 512.45,390.05 512.92,389.86 513.38,389.71 513.84,389.60 514.30,389.53 514.76,389.50 515.22,389.51 515.69,389.54 516.15,389.61 516.61,389.71 517.07,389.83 517.53,389.98 517.99,390.15 518.46,390.35 518.92,390.56 519.38,390.79 519.84,391.05 520.30,391.31 520.76,391.59 521.23,391.89 521.69,392.19 522.15,392.51 522.61,392.83 523.07,393.16 523.53,393.50 524.00,393.85 524.46,394.20 524.92,394.56 525.38,394.92 525.84,395.28 526.30,395.64 526.77,396.01 527.23,396.38 527.69,396.74 528.15,397.11 528.61,397.47 529.07,397.84 529.54,398.20 530.00,398.56 530.46,398.92 530.92,399.28 531.38,399.63 531.84,399.98 532.31,400.32 532.77,400.67 533.23,401.01 533.69,401.34 534.15,401.67 534.61,402.00 535.08,402.32 535.54,402.64 536.00,402.95 536.46,403.26 536.92,403.57 537.38,403.87 537.85,404.17 538.31,404.46 538.77,404.74 539.23,405.03 539.69,405.31 540.15,405.58 540.62,405.85 541.08,406.11 541.54,406.38 542.00,406.63 542.46,406.89 542.92,407.13 543.39,407.38 543.85,407.62 544.31,407.86 544.77,408.09 545.23,408.32 545.69,408.54 546.16,408.76 546.62,408.98 547.08,409.20 547.54,409.41 548.00,409.62 548.46,409.82 548.93,410.02 549.39,410.22 549.85,410.41 550.31,410.61 550.77,410.79 551.23,410.98 551.70,411.16 552.16,411.34 552.62,411.52 553.08,411.70 553.54,411.87 554.00,412.04 554.47,412.21 554.93,412.37 555.39,412.54 555.85,412.70 556.31,412.86 556.77,413.01 557.24,413.17 557.70,413.32 558.16,413.47 558.62,413.62 559.08,413.76 559.54,413.91 560.01,414.05 560.47,414.19 560.93,414.33 561.39,414.47 561.85,414.60 562.31,414.74 562.78,414.87 563.24,415.00 563.70,415.13 564.16,415.26 564.62,415.39 565.08,415.51 565.55,415.64 566.01,415.76 566.47,415.88 566.93,416.01 567.39,416.12 567.85,416.24 568.32,416.36 568.78,416.48 569.24,416.59 569.70,416.71 570.16,416.82 570.62,416.93 571.09,417.04 571.55,417.15 572.01,417.26 572.47,417.37 572.93,417.48 573.39,417.59 573.86,417.69 574.32,417.80 574.78,417.90 575.24,418.01 575.70,418.11 576.16,418.21 576.63,418.31 577.09,418.41 577.55,418.51 578.01,418.61 578.47,418.71 578.93,418.81 579.40,418.91 579.86,419.01 580.32,419.10 580.78,419.20 581.24,419.30 581.70,419.39 582.17,419.49 582.63,419.58 583.09,419.67 583.55,419.77 584.01,419.86 584.47,419.95 584.94,420.04 585.40,420.14 585.86,420.23 586.32,420.32 586.78,420.41 587.24,420.50 587.71,420.59 588.17,420.68 588.63,420.77 589.09,420.85 589.55,420.94 590.01,421.03 590.48,421.12 590.94,421.21 591.40,421.29 591.86,421.38 592.32,421.47 592.78,421.55 593.25,421.64 593.71,421.72 594.17,421.81 594.63,421.89 595.09,421.98 595.55,422.06 596.02,422.15 596.48,422.23 596.94,422.32 597.40,422.40 597.86,422.48 598.32,422.57 598.79,422.65 599.25,422.73 599.71,422.81 600.17,422.90 600.63,422.98 601.09,423.06 601.56,423.14 602.02,423.23 602.48,423.31 602.94,423.39 603.40,423.47 603.86,423.55 604.33,423.63 604.79,423.71 605.25,423.79 605.71,423.87 606.17,423.95 606.63,424.03 607.10,424.11 607.56,424.19 608.02,424.27 608.48,424.35 608.94,424.43 609.40,424.51 609.87,424.59 610.33,424.67 610.79,424.75 611.25,424.83 611.71,424.91 612.17,424.99 612.64,425.06 613.10,425.14 613.56,425.22 614.02,425.30 614.48,425.38 614.94,425.46 615.41,425.53 615.87,425.61 616.33,425.69 616.79,425.77 617.25,425.84 617.71,425.92 618.18,426.00 618.64,426.08 619.10,426.15 619.56,426.23 620.02,426.31 620.48,426.39 620.95,426.46 621.41,426.54 621.87,426.62 622.33,426.69 622.79,426.77 623.25,426.85 623.72,426.92 624.18,427.00 624.64,427.08 625.10,427.15 625.56,427.23 626.02,427.30 626.49,427.38 626.95,427.46 627.41,427.53 627.87,427.61 628.33,427.68 628.79,427.76 629.26,427.83 629.72,427.91 630.18,427.99 630.64,428.06 631.10,428.14 631.56,428.21 632.03,428.29 632.49,428.36 632.95,428.44 633.41,428.51 633.87,428.59 634.33,428.66 634.80,428.74 635.26,428.81 635.72,428.89 636.18,428.96 636.64,429.04 637.10,429.11 637.57,429.19 638.03,429.26 638.49,429.34 638.95,429.41 639.41,429.49 639.87,429.56 640.34,429.63 640.80,429.71 641.26,429.78 641.72,429.86 642.18,429.93 642.64,430.01 643.11,430.08 643.57,430.15 644.03,430.23 644.49,430.30 644.95,430.38 645.41,430.45 645.88,430.52 646.34,430.60 646.80,430.67 647.26,430.74 647.72,430.82 648.18,430.89 648.65,430.97 649.11,431.04 649.57,431.11 650.03,431.19 650.49,431.26 650.95,431.33 651.42,431.41 651.88,431.48 652.34,431.55 652.80,431.63 653.26,431.70 653.72,431.77 654.19,431.84 654.65,431.92 655.11,431.99 655.57,432.06 656.03,432.14 656.49,432.21 656.96,432.28 657.42,432.35 657.88,432.43 658.34,432.50 658.80,432.57 659.26,432.65 659.73,432.72 660.19,432.79 660.65,432.86 661.11,432.94 661.57,433.01 662.03,433.08 662.50,433.15 662.96,433.23 663.42,433.30 663.88,433.37 664.34,433.44 664.80,433.51 665.27,433.59 665.73,433.66 666.19,433.73 666.65,433.80 667.11,433.87 667.57,433.95 668.04,434.02 668.50,434.09 668.96,434.16 669.42,434.23 669.88,434.31 670.34,434.38 670.81,434.45 671.27,434.52 671.73,434.59 672.19,434.66 672.65,434.73 673.11,434.81 673.58,434.88 674.04,434.95 674.50,435.02" stroke="#0A8A12"/>
<polyline points="397.50,582.50 397.96,582.50 398.42,582.50 398.88,582.50 399.35,582.50 399.81,582.50 400.27,582.50 400.73,582.50 401.19,582.50 401.65,582.50 402.12,582.50 402.58,582.50 403.04,582.50 403.50,582.50 403.96,582.50 404.42,582.50 404.89,582.50 405.35,582.50 405.81,582.50 406.27,582.50 406.73,582.50 407.19,582.50 407.66,582.50 408.12,582.50 408.58,582.50 409.04,582.50 409.50,582.50 409.96,582.50 410.43,582.50 410.89,582.50 411.35,582.50 411.81,582.50 412.27,582.50 412.73,582.50 413.20,582.50 413.66,582.50 414.12,582.50 414.58,582.50 415.04,582.50 415.50,582.50 415.97,582.50 416.43,582.50 416.89,582.50 417.35,582.50 417.81,582.50 418.27,582.50 418.74,582.50 419.20,582.50 419.66,582.50 420.12,582.50 420.58,582.50 421.04,582.50 421.51,582.50 421.97,582.50 422.43,582.50 422.89,582.50 423.35,582.50 423.81,582.50 424.28,582.50 424.74,582.50 425.20,582.50 425.66,582.50 426.12,582.50 426.58,582.50 427.05,582.50 427.51,582.50 427.97,582.50 428.43,582.50 428.89,582.50 429.35,582.49 429.82,582.49 430.28,582.49 430.74,582.49 431.20,582.49 431.66,582.49 432.12,582.49 432.59,582.49 433.05,582.49 433.51,582.49 433.97,582.49 434.43,582.48 434.89,582.48 435.36,582.48 435.82,582.48 436.28,582.48 436.74,582.47 437.20,582.47 437.66,582.47 438.13,582.46 438.59,582.46 439.05,582.46 439.51,582.45 439.97,582.45 440.43,582.44 440.90,582.44 441.36,582.43 441.82,582.42 442.28,582.41 442.74,582.41 443.20,582.40 443.67,582.38 444.13,582.37 444.59,582.36 445.05,582.35 445.51,582.33 445.97,582.31 446.44,582.30 446.90,582.28 447.36,582.25 447.82,582.23 448.28,582.20 448.74,582.17 449.21,582.14 449.67,582.11 450.13,582.07 450.59,582.03 451.05,581.99 451.51,581.94 451.98,581.88 452.44,581.83 452.90,581.77 453.36,581.70 453.82,581.63 454.28,581.55 454.75,581.46 455.21,581.37 455.67,581.27 456.13,581.16 456.59,581.04 457.05,580.92 457.52,580.78 457.98,580.64 458.44,580.48 458.90,580.31 459.36,580.13 459.82,579.94 460.29,579.73 460.75,579.50 461.21,579.27 461.67,579.01 462.13,578.74 462.59,578.45 463.06,578.14 463.52,577.80 463.98,577.45 464.44,577.08 464.90,576.68 465.36,576.25 465.83,575.80 466.29,575.33 466.75,574.82 467.21,574.29 467.67,573.73 468.13,573.13 468.60,572.50 469.06,571.84 469.52,571.14 469.98,570.41 470.44,569.64 470.90,568.83 471.37,567.98 471.83,567.08 472.29,566.15 472.75,565.18 473.21,564.16 473.67,563.09 474.14,561.98 474.60,560.82 475.06,559.62 475.52,558.37 475.98,557.07 476.44,555.71 476.91,554.31 477.37,552.86 477.83,551.36 478.29,549.80 478.75,548.20 479.21,546.54 479.68,544.84 480.14,543.08 480.60,541.27 481.06,539.41 481.52,537.50 481.98,535.54 482.45,533.54 482.91,531.48 483.37,529.38 483.83,527.24 484.29,525.05 484.75,522.81 485.22,520.54 485.68,518.23 486.14,515.87 486.60,513.49 487.06,511.06 487.52,508.61 487.99,506.12 488.45,503.61 488.91,501.07 489.37,498.51 489.83,495.93 490.29,493.33 490.76,490.71 491.22,488.08 491.68,485.44 492.14,482.80 492.60,480.15 493.06,477.50 493.53,474.85 493.99,472.20 494.45,469.56 494.91,466.94 495.37,464.32 495.83,461.72 496.30,459.14 496.76,456.58 497.22,454.05 497.68,451.54 498.14,449.06 498.60,446.61 499.07,444.20 499.53,441.83 499.99,439.49 500.45,437.19 500.91,434.94 501.37,432.74 501.84,430.58 502.30,428.47 502.76,426.41 503.22,424.40 503.68,422.45 504.14,420.55 504.61,418.71 505.07,416.92 505.53,415.19 505.99,413.52 506.45,411.91 506.91,410.36 507.38,408.87 507.84,407.44 508.30,406.07 508.76,404.76 509.22,403.51 509.68,402.32 510.15,401.19 510.61,400.12 511.07,399.11 511.53,398.16 511.99,397.26 512.45,396.42 512.92,395.63 513.38,394.90 513.84,394.22 514.30,393.59 514.76,393.01 515.22,392.49 515.69,392.01 516.15,391.58 516.61,391.19 517.07,390.85 517.53,390.55 517.99,390.29 518.46,390.07 518.92,389.89 519.38,389.74 519.84,389.63 520.30,389.56 520.76,389.51 521.23,389.50 521.69,389.52 522.15,389.56 522.61,389.63 523.07,389.72 523.53,389.84 524.00,389.98 524.46,390.14 524.92,390.32 525.38,390.51 525.84,390.73 526.30,390.95 526.77,391.20 527.23,391.45 527.69,391.72 528.15,392.00 528.61,392.29 529.07,392.59 529.54,392.90 530.00,393.21 530.46,393.53 530.92,393.85 531.38,394.18 531.84,394.52 532.31,394.86 532.77,395.20 533.23,395.54 533.69,395.88 534.15,396.23 534.61,396.57 535.08,396.92 535.54,397.26 536.00,397.61 536.46,397.95 536.92,398.29 537.38,398.63 537.85,398.97 538.31,399.30 538.77,399.64 539.23,399.97 539.69,400.29 540.15,400.61 540.62,400.93 541.08,401.25 541.54,401.56 542.00,401.87 542.46,402.17 542.92,402.47 543.39,402.77 543.85,403.06 544.31,403.35 544.77,403.63 545.23,403.91 545.69,404.18 546.16,404.45 546.62,404.72 547.08,404.98 547.54,405.24 548.00,405.49 548.46,405.74 548.93,405.98 549.39,406.22 549.85,406.46 550.31,406.69 550.77,406.92 551.23,407.15 551.70,407.37 552.16,407.59 552.62,407.80 553.08,408.01 553.54,408.22 554.00,408.42 554.47,408.62 554.93,408.82 555.39,409.01 555.85,409.20 556.31,409.39 556.77,409.57 557.24,409.75 557.70,409.93 558.16,410.10 558.62,410.28 559.08,410.44 559.54,410.61 560.01,410.78 560.47,410.94 560.93,411.10 561.39,411.25 561.85,411.41 562.31,411.56 562.78,411.71 563.24,411.86 563.70,412.00 564.16,412.15 564.62,412.29 565.08,412.43 565.55,412.57 566.01,412.70 566.47,412.84 566.93,412.97 567.39,413.10 567.85,413.23 568.32,413.36 568.78,413.49 569.24,413.61 569.70,413.73 570.16,413.86 570.62,413.98 571.09,414.10 571.55,414.21 572.01,414.33 572.47,414.45 572.93,414.56 573.39,414.67 573.86,414.79 574.32,414.90 574.78,415.01 575.24,415.12 575.70,415.22 576.16,415.33 576.63,415.44 577.09,415.54 577.55,415.65 578.01,415.75 578.47,415.85 578.93,415.96 579.40,416.06 579.86,416.16 580.32,416.26 580.78,416.36 581.24,416.46 581.70,416.55 582.17,416.65 582.63,416.75 583.09,416.84 583.55,416.94 584.01,417.03 584.47,417.13 584.94,417.22 585.40,417.32 585.86,417.41 586.32,417.50 586.78,417.59 587.24,417.68 587.71,417.77 588.17,417.86 588.63,417.95 589.09,418.04 589.55,418.13 590.01,418.22 590.48,418.31 590.94,418.40 591.40,418.49 591.86,418.57 592.32,418.66 592.78,418.75 593.25,418.83 593.71,418.92 594.17,419.01 594.63,419.09 595.09,419.18 595.55,419.26 596.02,419.35 596.48,419.43 596.94,419.52 597.40,419.60 597.86,419.68 598.32,419.77 598.79,419.85 599.25,419.93 599.71,420.02 600.17,420.10 600.63,420.18 601.09,420.26 601.56,420.35 602.02,420.43 602.48,420.51 602.94,420.59 603.40,420.67 603.86,420.75 604.33,420.83 604.79,420.92 605.25,421.00 605.71,421.08 606.17,421.16 606.63,421.24 607.10,421.32 607.56,421.40 608.02,421.48 608.48,421.56 608.94,421.64 609.40,421.72 609.87,421.80 610.33,421.88 610.79,421.95 611.25,422.03 611.71,422.11 612.17,422.19 612.64,422.27 613.10,422.35 613.56,422.43 614.02,422.51 614.48,422.58 614.94,422.66 615.41,422.74 615.87,422.82 616.33,422.90 616.79,422.97 617.25,423.05 617.71,423.13 618.18,423.21 618.64,423.28 619.10,423.36 619.56,423.44 620.02,423.52 620.48,423.59 620.95,423.67 621.41,423.75 621.87,423.83 622.33,423.90 622.79,423.98 623.25,424.06 623.72,424.13 624.18,424.21 624.64,424.29 625.10,424.36 625.56,424.44 626.02,424.52 626.49,424.59 626.95,424.67 627.41,424.74 627.87,424.82 628.33,424.90 628.79,424.97 629.26,425.05 629.72,425.12 630.18,425.20 630.64,425.28 631.10,425.35 631.56,425.43 632.03,425.50 632.49,425.58 632.95,425.65 633.41,425.73 633.87,425.81 634.33,425.88 634.80,425.96 635.26,426.03 635.72,426.11 636.18,426.18 636.64,426.26 637.10,426.33 637.57,426.41 638.03,426.48 638.49,426.56 638.95,426.63 639.41,426.71 639.87,426.78 640.34,426.86 640.80,426.93 641.26,427.01 641.72,427.08 642.18,427.16 642.64,427.23 643.11,427.30 643.57,427.38 644.03,427.45 644.49,427.53 644.95,427.60 645.41,427.68 645.88,427.75 646.34,427.83 646.80,427.90 647.26,427.97 647.72,428.05 648.18,428.12 648.65,428.20 649.11,428.27 649.57,428.34 650.03,428.42 650.49,428.49 650.95,428.57 651.42,428.64 651.88,428.71 652.34,428.79 652.80,428.86 653.26,428.93 653.72,429.01 654.19,429.08 654.65,429.15 655.11,429.23 655.57,429.30 656.03,429.37 656.49,429.45 656.96,429.52 657.42,429.59 657.88,429.67 658.34,429.74 658.80,429.81 659.26,429.89 659.73,429.96 660.19,430.03 660.65,430.11 661.11,430.18 661.57,430.25 662.03,430.33 662.50,430.40 662.96,430.47 663.42,430.54 663.88,430.62 664.34,430.69 664.80,430.76 665.27,430.84 665.73,430.91 666.19,430.98 666.65,431.05 667.11,431.13 667.57,431.20 668.04,431.27 668.50,431.34 668.96,431.42 669.42,431.49 669.88,431.56 670.34,431.63 670.81,431.70 671.27,431.78 671.73,431.85 672.19,431.92 672.65,431.99 673.11,432.06 673.58,432.14 674.04,432.21 674.50,432.28" stroke="#19BFCC"/>
<polyline points="397.50,582.50 397.96,582.50 398.42,582.50 398.88,582.50 399.35,582.50 399.81,582.50 400.27,582.50 400.73,582.50 401.19,582.50 401.65,582.50 402.12,582.50 402.58,582.50 403.04,582.50 403.50,582.50 403.96,582.50 404.42,582.50 404.89,582.50 405.35,582.50 405.81,582.50 406.27,582.50 406.73,582.50 407.19,582.50 407.66,582.50 408.12,582.50 408.58,582.50 409.04,582.50 409.50,582.50 409.96,582.50 410.43,582.50 410.89,582.50 411.35,582.50 411.81,582.50 412.27,582.50 412.73,582.50 413.20,582.50 413.66,582.50 414.12,582.50 414.58,582.50 415.04,582.50 415.50,582.50 415.97,582.50 416.43,582.50 416.89,582.50 417.35,582.50 417.81,582.50 418.27,582.50 418.74,582.50 419.20,582.50 419.66,582.50 420.12,582.50 420.58,582.50 421.04,582.50 421.51,582.50 421.97,582.50 422.43,582.50 422.89,582.50 423.35,582.50 423.81,582.50 424.28,582.50 424.74,582.50 425.20,582.50 425.66,582.50 426.12,582.50 426.58,582.50 427.05,582.50 427.51,582.50 427.97,582.50 428.43,582.50 428.89,582.50 429.35,582.50 429.82,582.50 430.28,582.50 430.74,582.50 431.20,582.50 431.66,582.50 432.12,582.50 432.59,582.50 433.05,582.50 433.51,582.50 433.97,582.50 434.43,582.50 434.89,582.50 435.36,582.50 435.82,582.50 436.28,582.50 436.74,582.49 437.20,582.49 437.66,582.49 438.13,582.49 438.59,582.49 439.05,582.49 439.51,582.49 439.97,582.49 440.43,582.49 440.90,582.48 441.36,582.48 441.82,582.48 442.28,582.48 442.74,582.47 443.20,582.47 443.67,582.47 444.13,582.46 444.59,582.46 445.05,582.45 445.51,582.45 445.97,582.44 446.44,582.43 446.90,582.43 447.36,582.42 447.82,582.41 448.28,582.40 448.74,582.39 449.21,582.37 449.67,582.36 450.13,582.34 450.59,582.33 451.05,582.31 451.51,582.29 451.98,582.27 452.44,582.24 452.90,582.21 453.36,582.18 453.82,582.15 454.28,582.12 454.75,582.08 455.21,582.04 455.67,581.99 456.13,581.94 456.59,581.89 457.05,581.83 457.52,581.76 457.98,581.70 458.44,581.62 458.90,581.54 459.36,581.45 459.82,581.36 460.29,581.25 460.75,581.14 461.21,581.02 461.67,580.90 462.13,580.76 462.59,580.61 463.06,580.45 463.52,580.28 463.98,580.10 464.44,579.90 464.90,579.69 465.36,579.46 465.83,579.22 466.29,578.97 466.75,578.69 467.21,578.40 467.67,578.09 468.13,577.76 468.60,577.41 469.06,577.04 469.52,576.64 469.98,576.22 470.44,575.78 470.90,575.31 471.37,574.81 471.83,574.29 472.29,573.74 472.75,573.15 473.21,572.54 473.67,571.89 474.14,571.21 474.60,570.50 475.06,569.75 475.52,568.97 475.98,568.15 476.44,567.29 476.91,566.39 477.37,565.45 477.83,564.47 478.29,563.44 478.75,562.38 479.21,561.27 479.68,560.12 480.14,558.92 480.60,557.68 481.06,556.39 481.52,555.05 481.98,553.67 482.45,552.24 482.91,550.76 483.37,549.23 483.83,547.66 484.29,546.04 484.75,544.37 485.22,542.65 485.68,540.89 486.14,539.08 486.60,537.22 487.06,535.32 487.52,533.37 487.99,531.37 488.45,529.34 488.91,527.26 489.37,525.14 489.83,522.98 490.29,520.78 490.76,518.54 491.22,516.27 491.68,513.96 492.14,511.62 492.60,509.25 493.06,506.85 493.53,504.42 493.99,501.97 494.45,499.50 494.91,497.00 495.37,494.49 495.83,491.96 496.30,489.42 496.76,486.86 497.22,484.30 497.68,481.73 498.14,479.16 498.60,476.59 499.07,474.02 499.53,471.45 499.99,468.90 500.45,466.35 500.91,463.81 501.37,461.29 501.84,458.78 502.30,456.30 502.76,453.84 503.22,451.40 503.68,448.99 504.14,446.61 504.61,444.26 505.07,441.95 505.53,439.67 505.99,437.44 506.45,435.24 506.91,433.08 507.38,430.97 507.84,428.90 508.30,426.88 508.76,424.91 509.22,422.99 509.68,421.12 510.15,419.30 510.61,417.54 511.07,415.83 511.53,414.17 511.99,412.57 512.45,411.03 512.92,409.54 513.38,408.12 513.84,406.74 514.30,405.43 514.76,404.17 515.22,402.97 515.69,401.83 516.15,400.74 516.61,399.71 517.07,398.74 517.53,397.82 517.99,396.96 518.46,396.15 518.92,395.39 519.38,394.68 519.84,394.03 520.30,393.42 520.76,392.87 521.23,392.36 521.69,391.90 522.15,391.48 522.61,391.11 523.07,390.78 523.53,390.49 524.00,390.24 524.46,390.03 524.92,389.86 525.38,389.72 525.84,389.62 526.30,389.55 526.77,389.51 527.23,389.50 527.69,389.52 528.15,389.57 528.61,389.64 529.07,389.74 529.54,389.86 530.00,390.00 530.46,390.16 530.92,390.34 531.38,390.54 531.84,390.76 532.31,390.99 532.77,391.23 533.23,391.49 533.69,391.76 534.15,392.04 534.61,392.34 535.08,392.64 535.54,392.94 536.00,393.26 536.46,393.58 536.92,393.91 537.38,394.24 537.85,394.58 538.31,394.92 538.77,395.26 539.23,395.61 539.69,395.95 540.15,396.30 540.62,396.65 541.08,397.00 541.54,397.34 542.00,397.69 542.46,398.03 542.92,398.38 543.39,398.72 543.85,399.05 544.31,399.39 544.77,399.72 545.23,400.05 545.69,400.38 546.16,400.70 546.62,401.02 547.08,401.33 547.54,401.64 548.00,401.95 548.46,402.25 548.93,402.55 549.39,402.84 549.85,403.13 550.31,403.42 550.77,403.70 551.23,403.97 551.70,404.24 552.16,404.51 552.62,404.77 553.08,405.03 553.54,405.28 554.00,405.53 554.47,405.78 554.93,406.02 555.39,406.25 555.85,406.48 556.31,406.71 556.77,406.93 557.24,407.15 557.70,407.37 558.16,407.58 558.62,407.79 559.08,407.99 559.54,408.19 560.01,408.39 560.47,408.58 560.93,408.77 561.39,408.96 561.85,409.14 562.31,409.32 562.78,409.50 563.24,409.67 563.70,409.84 564.16,410.01 564.62,410.17 565.08,410.33 565.55,410.49 566.01,410.65 566.47,410.81 566.93,410.96 567.39,411.11 567.85,411.25 568.32,411.40 568.78,411.54 569.24,411.68 569.70,411.82 570.16,411.96 570.62,412.09 571.09,412.23 571.55,412.36 572.01,412.49 572.47,412.61 572.93,412.74 573.39,412.86 573.86,412.99 574.32,413.11 574.78,413.23 575.24,413.35 575.70,413.46 576.16,413.58 576.63,413.69 577.09,413.81 577.55,413.92 578.01,414.03 578.47,414.14 578.93,414.25 579.40,414.36 579.86,414.46 580.32,414.57 580.78,414.67 581.24,414.78 581.70,414.88 582.17,414.98 582.63,415.08 583.09,415.18 583.55,415.28 584.01,415.38 584.47,415.48 584.94,415.57 585.40,415.67 585.86,415.77 586.32,415.86 586.78,415.95 587.24,416.05 587.71,416.14 588.17,416.23 588.63,416.33 589.09,416.42 589.55,416.51 590.01,416.60 590.48,416.69 590.94,416.78 591.40,416.87 591.86,416.96 592.32,417.04 592.78,417.13 593.25,417.22 593.71,417.31 594.17,417.39 594.63,417.48 595.09,417.56 595.55,417.65 596.02,417.74 596.48,417.82 596.94,417.90 597.40,417.99 597.86,418.07 598.32,418.16 598.79,418.24 599.25,418.32 599.71,418.40 600.17,418.49 600.63,418.57 601.09,418.65 601.56,418.73 602.02,418.81 602.48,418.90 602.94,418.98 603.40,419.06 603.86,419.14 604.33,419.22 604.79,419.30 605.25,419.38 605.71,419.46 606.17,419.54 606.63,419.62 607.10,419.70 607.56,419.78 608.02,419.86 608.48,419.94 608.94,420.01 609.40,420.09 609.87,420.17 610.33,420.25 610.79,420.33 611.25,420.41 611.71,420.48 612.17,420.56 612.64,420.64 613.10,420.72 613.56,420.79 614.02,420.87 614.48,420.95 614.94,421.03 615.41,421.10 615.87,421.18 616.33,421.26 616.79,421.33 617.25,421.41 617.71,421.49 618.18,421.56 618.64,421.64 619.10,421.71 619.56,421.79 620.02,421.87 620.48,421.94 620.95,422.02 621.41,422.09 621.87,422.17 622.33,422.25 622.79,422.32 623.25,422.40 623.72,422.47 624.18,422.55 624.64,422.62 625.10,422.70 625.56,422.77 626.02,422.85 626.49,422.92 626.95,423.00 627.41,423.07 627.87,423.15 628.33,423.22 628.79,423.30 629.26,423.37 629.72,423.45 630.18,423.52 630.64,423.60 631.10,423.67 631.56,423.74 632.03,423.82 632.49,423.89 632.95,423.97 633.41,424.04 633.87,424.12 634.33,424.19 634.80,424.26 635.26,424.34 635.72,424.41 636.18,424.49 636.64,424.56 637.10,424.63 637.57,424.71 638.03,424.78 638.49,424.85 638.95,424.93 639.41,425.00 639.87,425.07 640.34,425.15 640.80,425.22 641.26,425.29 641.72,425.37 642.18,425.44 642.64,425.51 643.11,425.59 643.57,425.66 644.03,425.73 644.49,425.81 644.95,425.88 645.41,425.95 645.88,426.02 646.34,426.10 646.80,426.17 647.26,426.24 647.72,426.32 648.18,426.39 648.65,426.46 649.11,426.53 649.57,426.61 650.03,426.68 650.49,426.75 650.95,426.82 651.42,426.90 651.88,426.97 652.34,427.04 652.80,427.11 653.26,427.19 653.72,427.26 654.19,427.33 654.65,427.40 655.11,427.47 655.57,427.55 656.03,427.62 656.49,427.69 656.96,427.76 657.42,427.83 657.88,427.91 658.34,427.98 658.80,428.05 659.26,428.12 659.73,428.19 660.19,428.26 660.65,428.34 661.11,428.41 661.57,428.48 662.03,428.55 662.50,428.62 662.96,428.69 663.42,428.77 663.88,428.84 664.34,428.91 664.80,428.98 665.27,429.05 665.73,429.12 666.19,429.19 666.65,429.27 667.11,429.34 667.57,429.41 668.04,429.48 668.50,429.55 668.96,429.62 669.42,429.69 669.88,429.76 670.34,429.83 670.81,429.90 671.27,429.98 671.73,430.05 672.19,430.12 672.65,430.19 673.11,430.26 673.58,430.33 674.04,430.40 674.50,430.47" stroke="#0072BD"/>
</g>
<rect x="397.5" y="370.5" width="277" height="231.5" fill="none" stroke="#737373" stroke-width="1"/>
<text x="397.50" y="618.2" text-anchor="middle" font-family="'Liberation Sans', sans-serif" font-size="13" fill="#1a1a1a">−100</text>
<text x="443.67" y="618.2" text-anchor="middle" font-family="'Liberation Sans', sans-serif" font-size="13" fill="#1a1a1a">−50</text>
<text x="489.83" y="618.2" text-anchor="middle" font-family="'Liberation Sans', sans-serif" font-size="13" fill="#1a1a1a">0</text>
<text x="536.00" y="618.2" text-anchor="middle" font-family="'Liberation Sans', sans-serif" font-size="13" fill="#1a1a1a">50</text>
<text x="582.17" y="618.2" text-anchor="middle" font-family="'Liberation Sans', sans-serif" font-size="13" fill="#1a1a1a">100</text>
<text x="628.33" y="618.2" text-anchor="middle" font-family="'Liberation Sans', sans-serif" font-size="13" fill="#1a1a1a">150</text>
<text x="674.50" y="618.2" text-anchor="middle" font-family="'Liberation Sans', sans-serif" font-size="13" fill="#1a1a1a">200</text>
<text x="392.20" y="587.10" text-anchor="end" font-family="'Liberation Sans', sans-serif" font-size="13" fill="#1a1a1a">0</text>
<text x="392.20" y="548.50" text-anchor="end" font-family="'Liberation Sans', sans-serif" font-size="13" fill="#1a1a1a">0.2</text>
<text x="392.20" y="509.90" text-anchor="end" font-family="'Liberation Sans', sans-serif" font-size="13" fill="#1a1a1a">0.4</text>
<text x="392.20" y="471.30" text-anchor="end" font-family="'Liberation Sans', sans-serif" font-size="13" fill="#1a1a1a">0.6</text>
<text x="392.20" y="432.70" text-anchor="end" font-family="'Liberation Sans', sans-serif" font-size="13" fill="#1a1a1a">0.8</text>
<text x="392.20" y="394.10" text-anchor="end" font-family="'Liberation Sans', sans-serif" font-size="13" fill="#1a1a1a">1</text>
<path d="M397.50,602.0 v-3.3 M397.50,370.5 v2.8 M443.67,602.0 v-3.3 M443.67,370.5 v2.8 M489.83,602.0 v-3.3 M489.83,370.5 v2.8 M536.00,602.0 v-3.3 M536.00,370.5 v2.8 M582.17,602.0 v-3.3 M582.17,370.5 v2.8 M628.33,602.0 v-3.3 M628.33,370.5 v2.8 M674.50,602.0 v-3.3 M674.50,370.5 v2.8 M397.5,582.50 h2.8 M674.5,582.50 h-2.8 M397.5,543.90 h2.8 M674.5,543.90 h-2.8 M397.5,505.30 h2.8 M674.5,505.30 h-2.8 M397.5,466.70 h2.8 M674.5,466.70 h-2.8 M397.5,428.10 h2.8 M674.5,428.10 h-2.8 M397.5,389.50 h2.8 M674.5,389.50 h-2.8" stroke="#333" stroke-width="1"/>
<text x="409.9" y="388.7" font-family="'Liberation Sans', sans-serif" font-size="11.4" fill="#111">B exciton</text>
<text transform="translate(364.2,486.3) rotate(-90)" text-anchor="middle" font-family="'Liberation Sans', sans-serif" font-size="13" fill="#1a1a1a">Δ<tspan font-style="italic">R</tspan>/<tspan font-style="italic">R</tspan> (norm.)</text>
<text x="536.0" y="636.9" text-anchor="middle" font-family="'Liberation Sans', sans-serif" font-size="13" fill="#1a1a1a"><tspan font-family="'Liberation Serif', serif" font-style="italic">τ</tspan> (fs)</text>
<rect x="546.5" y="488.5" width="108" height="64" fill="#fff" stroke="#737373" stroke-width="1"/>
<text x="575.95" y="563.8" text-anchor="middle" font-family="'Liberation Sans', sans-serif" font-size="8.8" fill="#1a1a1a">2.4</text>
<text x="615.23" y="563.8" text-anchor="middle" font-family="'Liberation Sans', sans-serif" font-size="8.8" fill="#1a1a1a">2.6</text>
<text x="654.50" y="563.8" text-anchor="middle" font-family="'Liberation Sans', sans-serif" font-size="8.8" fill="#1a1a1a">2.8</text>
<text x="543.20" y="555.60" text-anchor="end" font-family="'Liberation Sans', sans-serif" font-size="8.8" fill="#1a1a1a">0</text>
<text x="543.20" y="523.60" text-anchor="end" font-family="'Liberation Sans', sans-serif" font-size="8.8" fill="#1a1a1a">10</text>
<text x="543.20" y="491.60" text-anchor="end" font-family="'Liberation Sans', sans-serif" font-size="8.8" fill="#1a1a1a">20</text>
<path d="M575.95,552.5 v-2 M575.95,488.5 v2 M615.23,552.5 v-2 M615.23,488.5 v2 M654.50,552.5 v-2 M654.50,488.5 v2 M546.5,552.50 h2 M654.5,552.50 h-2 M546.5,520.50 h2 M654.5,520.50 h-2 M546.5,488.50 h2 M654.5,488.50 h-2" stroke="#333" stroke-width="0.8"/>
<text x="600.50" y="576.6" text-anchor="middle" font-family="'Liberation Sans', sans-serif" font-size="9.4" fill="#1a1a1a">Pump energy (eV)</text>
<text transform="translate(522.60,535.9) rotate(-90)" font-family="'Liberation Serif', serif" font-style="italic" font-size="9.6" fill="#1a1a1a">τ</text>
<text transform="translate(526.40,529.1) rotate(-90)" font-family="'Liberation Sans', sans-serif" font-size="6.4" fill="#1a1a1a">rise</text>
<text transform="translate(522.90,515.9) rotate(-90)" font-family="'Liberation Sans', sans-serif" font-size="9.3" fill="#1a1a1a">(fs)</text>
<circle cx="554.16" cy="551.54" r="2.45" fill="none" stroke="#0000CC" stroke-width="1.6"/>
<circle cx="581.65" cy="551.86" r="2.45" fill="none" stroke="#0000CC" stroke-width="1.6"/>
<circle cx="600.89" cy="540.02" r="2.45" fill="none" stroke="#0000CC" stroke-width="1.6"/>
<circle cx="620.33" cy="528.50" r="2.45" fill="none" stroke="#0000CC" stroke-width="1.6"/>
<circle cx="644.09" cy="514.74" r="2.45" fill="none" stroke="#0000CC" stroke-width="1.6"/>
</svg>
</body></html>
